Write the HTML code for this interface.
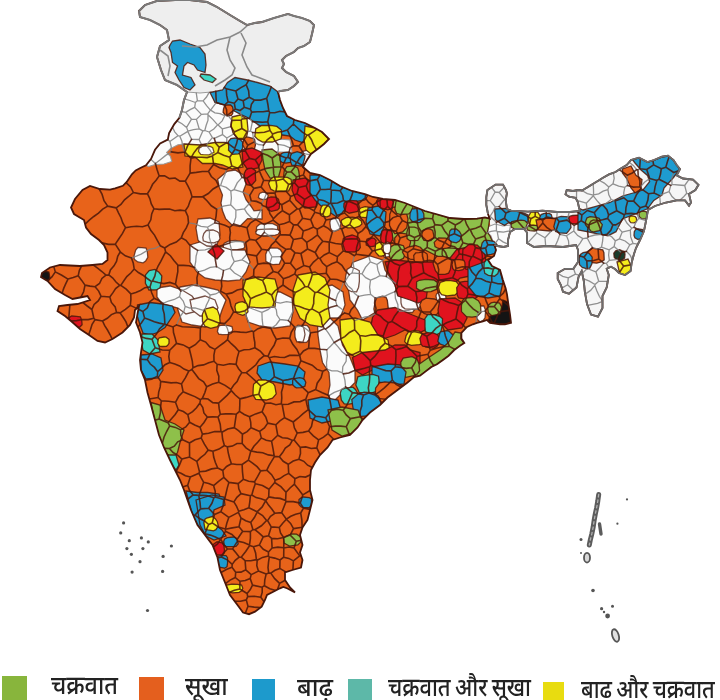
<!DOCTYPE html><html><head><meta charset="utf-8"><style>html,body{margin:0;padding:0;background:#fff;width:720px;height:700px;overflow:hidden}svg{display:block;filter:blur(0.5px)}.lg{position:absolute;top:0;left:0}</style></head><body>
<svg width="720" height="700" viewBox="0 0 720 700">
<defs><clipPath id="ind"><path d="M139.0,11.0 L145.0,5.0 L157.0,1.0 L175.0,0.0 L190.0,0.0 L207.0,2.0 L217.0,7.0 L230.0,15.0 L240.0,21.0 L247.0,25.0 L255.0,23.0 L262.0,22.0 L274.0,18.0 L288.0,14.0 L294.0,16.0 L302.0,18.0 L310.0,21.0 L314.0,25.0 L312.0,34.0 L310.0,42.0 L304.0,46.0 L298.0,48.0 L294.0,52.0 L286.0,56.0 L282.0,60.0 L284.0,64.0 L282.0,68.0 L286.0,72.0 L294.0,76.0 L298.0,82.0 L294.0,86.0 L288.0,90.0 L280.0,91.0 L278.0,92.0 L280.0,100.0 L283.0,108.0 L287.0,116.0 L295.0,120.0 L305.0,123.0 L315.0,128.0 L322.0,132.0 L329.0,139.0 L324.0,144.0 L319.0,148.0 L311.0,154.0 L307.0,160.0 L303.0,167.0 L310.0,173.0 L320.0,175.0 L330.0,180.0 L340.0,186.0 L352.0,191.0 L365.0,194.0 L373.0,197.0 L383.0,199.0 L395.0,200.0 L405.0,203.0 L415.0,207.0 L425.0,211.0 L436.0,214.0 L450.0,218.0 L464.0,219.0 L477.0,218.6 L485.0,217.4 L489.7,218.6 L488.0,214.0 L486.3,205.0 L486.3,197.0 L487.4,190.0 L495.6,184.6 L503.0,184.6 L506.0,190.0 L506.9,193.4 L505.7,200.3 L507.0,209.0 L511.0,210.6 L528.0,211.7 L542.5,210.6 L557.0,212.0 L570.0,212.0 L580.0,211.0 L579.0,207.8 L577.8,202.0 L575.5,197.8 L569.0,196.7 L565.5,194.4 L566.7,190.0 L573.0,191.0 L578.0,190.0 L582.0,190.5 L586.7,187.8 L592.0,184.4 L597.8,181.0 L603.0,177.8 L609.0,174.4 L615.5,172.0 L620.0,169.0 L626.7,165.0 L631.0,160.0 L639.0,157.7 L647.5,162.0 L654.0,160.0 L662.0,156.7 L668.0,155.6 L673.5,160.0 L676.7,165.0 L680.0,169.0 L676.7,175.4 L683.0,178.5 L693.0,179.6 L698.5,184.8 L695.4,190.0 L689.0,194.0 L691.0,202.5 L689.0,205.6 L685.0,200.4 L676.7,200.4 L666.0,202.5 L655.0,206.0 L648.0,210.0 L646.0,221.0 L644.0,231.0 L640.0,240.0 L636.0,248.0 L634.0,254.0 L631.7,262.5 L630.6,271.0 L625.0,275.0 L619.0,273.0 L615.0,269.0 L611.0,266.7 L606.7,268.8 L608.8,275.0 L606.7,287.5 L602.5,296.0 L602.5,308.0 L598.0,316.7 L591.0,314.6 L587.0,304.0 L584.8,291.7 L583.8,281.0 L581.7,271.0 L578.5,277.0 L576.5,287.5 L569.0,293.8 L563.0,291.7 L561.0,285.4 L557.7,279.0 L557.7,273.0 L565.0,268.8 L573.3,268.8 L578.0,262.0 L578.0,250.0 L576.0,245.0 L563.0,247.0 L546.7,246.0 L534.0,247.0 L527.0,243.0 L527.0,232.5 L524.0,229.0 L515.0,229.0 L510.0,232.0 L508.0,240.0 L508.0,246.0 L503.4,247.0 L497.7,246.0 L494.3,245.0 L496.0,250.0 L494.0,256.0 L488.0,260.0 L492.0,266.0 L500.0,270.0 L502.9,280.0 L505.7,288.6 L507.0,294.3 L508.6,305.7 L510.0,314.3 L511.0,322.9 L505.0,324.3 L500.0,324.3 L490.0,322.9 L487.0,320.0 L482.9,321.4 L477.0,322.9 L472.9,324.3 L467.0,327.0 L461.4,332.9 L461.4,338.6 L464.3,342.9 L460.0,345.7 L454.3,350.0 L448.6,355.7 L442.9,360.0 L437.0,364.3 L431.4,367.0 L425.7,371.4 L420.0,375.7 L414.0,377.0 L407.5,382.5 L397.5,390.0 L387.5,397.5 L380.0,405.0 L370.0,412.5 L362.5,420.0 L357.5,427.5 L350.0,435.0 L340.0,437.5 L332.5,440.0 L327.5,447.5 L320.0,455.0 L315.0,462.5 L311.0,470.0 L310.0,480.0 L310.0,490.0 L312.5,500.0 L310.0,510.0 L307.5,520.0 L302.5,527.5 L300.0,535.0 L302.5,545.0 L300.0,552.5 L302.5,560.0 L301.0,567.5 L292.5,570.0 L285.0,572.5 L285.0,580.0 L290.0,587.5 L295.0,592.5 L287.5,588.5 L283.3,587.0 L280.0,588.3 L273.3,591.7 L267.0,595.0 L265.0,600.0 L261.7,606.7 L255.0,611.7 L249.0,614.2 L243.0,612.5 L237.5,605.0 L230.0,595.0 L225.0,582.5 L220.0,570.0 L217.5,557.5 L212.5,545.0 L205.0,535.0 L197.5,525.0 L191.0,510.0 L187.5,500.0 L184.0,490.0 L180.0,480.0 L175.0,470.0 L170.0,460.0 L164.0,447.5 L159.0,435.0 L155.0,420.0 L151.0,405.0 L147.5,392.5 L145.0,380.0 L141.0,370.0 L140.0,360.0 L141.0,352.5 L142.5,342.5 L140.0,332.5 L136.0,322.5 L137.5,314.0 L139.0,306.0 L135.0,310.0 L134.0,317.5 L130.0,325.0 L122.5,332.5 L112.5,339.0 L105.0,342.5 L97.5,341.0 L89.0,335.0 L80.0,329.0 L71.0,321.0 L65.0,316.0 L57.5,311.0 L59.0,306.0 L67.5,305.0 L77.5,304.0 L90.0,300.0 L87.5,296.0 L80.0,297.5 L72.5,299.0 L65.0,295.0 L55.0,289.0 L47.5,281.0 L41.0,277.0 L42.0,273.0 L50.0,267.5 L60.0,265.0 L80.0,266.0 L92.5,265.0 L102.5,264.0 L107.5,260.0 L107.5,252.5 L104.0,245.0 L99.0,240.0 L91.0,234.0 L86.0,227.5 L84.0,220.0 L74.0,214.0 L71.0,207.5 L75.0,199.0 L82.5,190.0 L90.0,186.0 L100.0,189.0 L110.0,189.7 L115.1,188.4 L122.9,185.8 L126.7,182.0 L131.9,174.3 L135.7,170.4 L140.8,167.8 L146.0,165.3 L151.1,158.8 L155.0,149.8 L160.1,143.4 L167.8,139.6 L169.1,133.1 L174.3,124.1 L179.4,117.7 L182.0,110.0 L184.0,100.0 L187.0,92.0 L177.0,85.0 L165.0,80.0 L161.0,70.0 L157.0,57.0 L160.0,46.0 L169.0,40.0 L167.0,30.0 L160.0,25.0 L150.0,20.0 L140.0,17.0 Z"/></clipPath></defs>
<rect width="720" height="700" fill="#fff"/>
<g clip-path="url(#ind)">
<path d="M139.0,11.0 L145.0,5.0 L157.0,1.0 L175.0,0.0 L190.0,0.0 L207.0,2.0 L217.0,7.0 L230.0,15.0 L240.0,21.0 L247.0,25.0 L255.0,23.0 L262.0,22.0 L274.0,18.0 L288.0,14.0 L294.0,16.0 L302.0,18.0 L310.0,21.0 L314.0,25.0 L312.0,34.0 L310.0,42.0 L304.0,46.0 L298.0,48.0 L294.0,52.0 L286.0,56.0 L282.0,60.0 L284.0,64.0 L282.0,68.0 L286.0,72.0 L294.0,76.0 L298.0,82.0 L294.0,86.0 L288.0,90.0 L280.0,91.0 L278.0,92.0 L280.0,100.0 L283.0,108.0 L287.0,116.0 L295.0,120.0 L305.0,123.0 L315.0,128.0 L322.0,132.0 L329.0,139.0 L324.0,144.0 L319.0,148.0 L311.0,154.0 L307.0,160.0 L303.0,167.0 L310.0,173.0 L320.0,175.0 L330.0,180.0 L340.0,186.0 L352.0,191.0 L365.0,194.0 L373.0,197.0 L383.0,199.0 L395.0,200.0 L405.0,203.0 L415.0,207.0 L425.0,211.0 L436.0,214.0 L450.0,218.0 L464.0,219.0 L477.0,218.6 L485.0,217.4 L489.7,218.6 L488.0,214.0 L486.3,205.0 L486.3,197.0 L487.4,190.0 L495.6,184.6 L503.0,184.6 L506.0,190.0 L506.9,193.4 L505.7,200.3 L507.0,209.0 L511.0,210.6 L528.0,211.7 L542.5,210.6 L557.0,212.0 L570.0,212.0 L580.0,211.0 L579.0,207.8 L577.8,202.0 L575.5,197.8 L569.0,196.7 L565.5,194.4 L566.7,190.0 L573.0,191.0 L578.0,190.0 L582.0,190.5 L586.7,187.8 L592.0,184.4 L597.8,181.0 L603.0,177.8 L609.0,174.4 L615.5,172.0 L620.0,169.0 L626.7,165.0 L631.0,160.0 L639.0,157.7 L647.5,162.0 L654.0,160.0 L662.0,156.7 L668.0,155.6 L673.5,160.0 L676.7,165.0 L680.0,169.0 L676.7,175.4 L683.0,178.5 L693.0,179.6 L698.5,184.8 L695.4,190.0 L689.0,194.0 L691.0,202.5 L689.0,205.6 L685.0,200.4 L676.7,200.4 L666.0,202.5 L655.0,206.0 L648.0,210.0 L646.0,221.0 L644.0,231.0 L640.0,240.0 L636.0,248.0 L634.0,254.0 L631.7,262.5 L630.6,271.0 L625.0,275.0 L619.0,273.0 L615.0,269.0 L611.0,266.7 L606.7,268.8 L608.8,275.0 L606.7,287.5 L602.5,296.0 L602.5,308.0 L598.0,316.7 L591.0,314.6 L587.0,304.0 L584.8,291.7 L583.8,281.0 L581.7,271.0 L578.5,277.0 L576.5,287.5 L569.0,293.8 L563.0,291.7 L561.0,285.4 L557.7,279.0 L557.7,273.0 L565.0,268.8 L573.3,268.8 L578.0,262.0 L578.0,250.0 L576.0,245.0 L563.0,247.0 L546.7,246.0 L534.0,247.0 L527.0,243.0 L527.0,232.5 L524.0,229.0 L515.0,229.0 L510.0,232.0 L508.0,240.0 L508.0,246.0 L503.4,247.0 L497.7,246.0 L494.3,245.0 L496.0,250.0 L494.0,256.0 L488.0,260.0 L492.0,266.0 L500.0,270.0 L502.9,280.0 L505.7,288.6 L507.0,294.3 L508.6,305.7 L510.0,314.3 L511.0,322.9 L505.0,324.3 L500.0,324.3 L490.0,322.9 L487.0,320.0 L482.9,321.4 L477.0,322.9 L472.9,324.3 L467.0,327.0 L461.4,332.9 L461.4,338.6 L464.3,342.9 L460.0,345.7 L454.3,350.0 L448.6,355.7 L442.9,360.0 L437.0,364.3 L431.4,367.0 L425.7,371.4 L420.0,375.7 L414.0,377.0 L407.5,382.5 L397.5,390.0 L387.5,397.5 L380.0,405.0 L370.0,412.5 L362.5,420.0 L357.5,427.5 L350.0,435.0 L340.0,437.5 L332.5,440.0 L327.5,447.5 L320.0,455.0 L315.0,462.5 L311.0,470.0 L310.0,480.0 L310.0,490.0 L312.5,500.0 L310.0,510.0 L307.5,520.0 L302.5,527.5 L300.0,535.0 L302.5,545.0 L300.0,552.5 L302.5,560.0 L301.0,567.5 L292.5,570.0 L285.0,572.5 L285.0,580.0 L290.0,587.5 L295.0,592.5 L287.5,588.5 L283.3,587.0 L280.0,588.3 L273.3,591.7 L267.0,595.0 L265.0,600.0 L261.7,606.7 L255.0,611.7 L249.0,614.2 L243.0,612.5 L237.5,605.0 L230.0,595.0 L225.0,582.5 L220.0,570.0 L217.5,557.5 L212.5,545.0 L205.0,535.0 L197.5,525.0 L191.0,510.0 L187.5,500.0 L184.0,490.0 L180.0,480.0 L175.0,470.0 L170.0,460.0 L164.0,447.5 L159.0,435.0 L155.0,420.0 L151.0,405.0 L147.5,392.5 L145.0,380.0 L141.0,370.0 L140.0,360.0 L141.0,352.5 L142.5,342.5 L140.0,332.5 L136.0,322.5 L137.5,314.0 L139.0,306.0 L135.0,310.0 L134.0,317.5 L130.0,325.0 L122.5,332.5 L112.5,339.0 L105.0,342.5 L97.5,341.0 L89.0,335.0 L80.0,329.0 L71.0,321.0 L65.0,316.0 L57.5,311.0 L59.0,306.0 L67.5,305.0 L77.5,304.0 L90.0,300.0 L87.5,296.0 L80.0,297.5 L72.5,299.0 L65.0,295.0 L55.0,289.0 L47.5,281.0 L41.0,277.0 L42.0,273.0 L50.0,267.5 L60.0,265.0 L80.0,266.0 L92.5,265.0 L102.5,264.0 L107.5,260.0 L107.5,252.5 L104.0,245.0 L99.0,240.0 L91.0,234.0 L86.0,227.5 L84.0,220.0 L74.0,214.0 L71.0,207.5 L75.0,199.0 L82.5,190.0 L90.0,186.0 L100.0,189.0 L110.0,189.7 L115.1,188.4 L122.9,185.8 L126.7,182.0 L131.9,174.3 L135.7,170.4 L140.8,167.8 L146.0,165.3 L151.1,158.8 L155.0,149.8 L160.1,143.4 L167.8,139.6 L169.1,133.1 L174.3,124.1 L179.4,117.7 L182.0,110.0 L184.0,100.0 L187.0,92.0 L177.0,85.0 L165.0,80.0 L161.0,70.0 L157.0,57.0 L160.0,46.0 L169.0,40.0 L167.0,30.0 L160.0,25.0 L150.0,20.0 L140.0,17.0 Z" fill="#E8631A"/>
<path d="M488.0,214.0 L486.3,205.0 L486.3,197.0 L487.4,190.0 L495.6,184.6 L503.0,184.6 L506.0,190.0 L506.9,193.4 L505.7,200.3 L507.0,209.0 L511.0,210.6 L528.0,211.7 L542.5,210.6 L557.0,212.0 L570.0,212.0 L580.0,211.0 L579.0,207.8 L577.8,202.0 L575.5,197.8 L569.0,196.7 L565.5,194.4 L566.7,190.0 L573.0,191.0 L578.0,190.0 L582.0,190.5 L586.7,187.8 L592.0,184.4 L597.8,181.0 L603.0,177.8 L609.0,174.4 L615.5,172.0 L620.0,169.0 L626.7,165.0 L631.0,160.0 L639.0,157.7 L647.5,162.0 L654.0,160.0 L662.0,156.7 L668.0,155.6 L673.5,160.0 L676.7,165.0 L680.0,169.0 L676.7,175.4 L683.0,178.5 L693.0,179.6 L698.5,184.8 L695.4,190.0 L689.0,194.0 L691.0,202.5 L689.0,205.6 L685.0,200.4 L676.7,200.4 L666.0,202.5 L655.0,206.0 L648.0,210.0 L646.0,221.0 L644.0,231.0 L640.0,240.0 L636.0,248.0 L634.0,254.0 L631.7,262.5 L630.6,271.0 L625.0,275.0 L619.0,273.0 L615.0,269.0 L611.0,266.7 L606.7,268.8 L608.8,275.0 L606.7,287.5 L602.5,296.0 L602.5,308.0 L598.0,316.7 L591.0,314.6 L587.0,304.0 L584.8,291.7 L583.8,281.0 L581.7,271.0 L578.5,277.0 L576.5,287.5 L569.0,293.8 L563.0,291.7 L561.0,285.4 L557.7,279.0 L557.7,273.0 L565.0,268.8 L573.3,268.8 L578.0,262.0 L578.0,250.0 L576.0,245.0 L563.0,247.0 L546.7,246.0 L534.0,247.0 L527.0,243.0 L527.0,232.5 L524.0,229.0 L515.0,229.0 L510.0,232.0 L508.0,240.0 L508.0,246.0 L503.4,247.0 L497.7,246.0 L494.3,245.0 Z" fill="#F6F6F6"/>
<path d="M139.0,11.0 L145.0,5.0 L157.0,1.0 L175.0,0.0 L190.0,0.0 L207.0,2.0 L217.0,7.0 L230.0,15.0 L240.0,21.0 L247.0,25.0 L255.0,23.0 L262.0,22.0 L274.0,18.0 L288.0,14.0 L294.0,16.0 L302.0,18.0 L310.0,21.0 L314.0,25.0 L312.0,34.0 L310.0,42.0 L304.0,46.0 L298.0,48.0 L294.0,52.0 L286.0,56.0 L282.0,60.0 L284.0,64.0 L282.0,68.0 L286.0,72.0 L294.0,76.0 L298.0,82.0 L294.0,86.0 L288.0,90.0 L280.0,91.0 L278.0,92.0 L270.0,86.0 L257.5,82.5 L247.5,80.0 L235.0,77.5 L227.5,82.5 L222.5,90.0 L210.0,92.5 L200.0,93.0 L187.0,92.0 L177.0,85.0 L165.0,80.0 L161.0,70.0 L157.0,57.0 L160.0,46.0 L169.0,40.0 L167.0,30.0 L160.0,25.0 L150.0,20.0 L140.0,17.0 Z" fill="#EEEEEE" stroke="#EEEEEE" stroke-width="3"/>
<path d="M182.0,108.0 L187.0,92.0 L200.0,93.0 L211.0,92.0 L215.0,102.5 L225.0,105.0 L232.5,110.0 L240.0,114.0 L247.5,117.5 L256.0,123.0 L262.0,130.0 L268.0,138.0 L290.0,140.0 L292.0,152.0 L262.0,152.0 L243.0,150.0 L235.0,146.0 L225.0,142.5 L215.0,142.5 L200.0,145.0 L184.0,144.0 L178.0,144.7 L170.4,148.6 L166.6,152.4 L170.4,156.3 L171.7,161.4 L164.0,164.0 L155.0,164.6 L148.6,166.6 L146.0,165.3 L151.1,158.8 L155.0,149.8 L160.1,143.4 L167.8,139.6 L169.1,133.1 L174.3,124.1 L179.4,117.7 Z" fill="#FBFBFB" stroke="#9a9a9a" stroke-width="1.1"/>
<path d="M227.0,171.4 L235.0,170.0 L243.0,174.6 L246.0,184.0 L243.0,192.0 L246.0,199.7 L250.8,206.0 L254.0,210.8 L262.0,210.0 L262.0,219.0 L247.6,218.6 L239.7,226.5 L232.0,225.0 L225.6,218.6 L222.5,210.8 L221.0,203.0 L222.5,195.0 L219.3,187.2 L217.7,179.3 Z" fill="#FBFBFB" stroke="#4A170A" stroke-width="1.3" stroke-opacity="0.75"/>
<path d="M198.0,219.0 L210.0,218.0 L219.0,222.0 L220.0,235.0 L216.0,248.0 L205.0,249.0 L198.0,240.0 L196.0,228.0 Z" fill="#FBFBFB" stroke="#4A170A" stroke-width="1.3" stroke-opacity="0.75"/>
<path d="M258.4,234.5 L256.1,232.5 L256.7,226.8 L259.7,224.2 L265.2,223.5 L272.6,223.6 L277.4,226.0 L277.8,230.5 L276.5,234.2 L270.9,236.2 L263.5,236.4 Z" fill="#FBFBFB" stroke="#4A170A" stroke-width="1.3" stroke-opacity="0.75"/>
<path d="M263.0,199.6 L259.8,198.6 L258.4,197.4 L259.2,194.4 L259.7,193.4 L262.6,192.1 L265.9,192.6 L266.9,193.0 L268.2,195.8 L267.3,198.5 L266.1,199.2 Z" fill="#FBFBFB" stroke="#4A170A" stroke-width="1.3" stroke-opacity="0.75"/>
<path d="M243.7,248.4 L237.4,249.7 L228.9,250.1 L223.6,248.7 L223.2,245.3 L224.3,243.2 L228.5,241.2 L235.2,240.3 L242.7,241.5 L244.0,242.8 L244.7,246.8 Z" fill="#FBFBFB" stroke="#4A170A" stroke-width="1.3" stroke-opacity="0.75"/>
<path d="M190.0,245.0 L200.0,242.0 L207.0,246.0 L222.0,247.0 L232.0,250.0 L245.0,250.0 L250.0,262.0 L246.0,272.0 L240.0,280.0 L228.0,281.0 L215.0,280.0 L205.0,278.0 L197.0,272.0 L190.0,262.0 Z" fill="#FBFBFB" stroke="#4A170A" stroke-width="1.3" stroke-opacity="0.75"/>
<path d="M203.3,240.8 L202.8,237.3 L203.8,233.6 L206.4,230.5 L213.0,230.0 L217.4,231.7 L219.1,233.4 L220.0,238.6 L218.6,241.0 L214.0,242.9 L208.4,242.5 Z" fill="#FBFBFB" stroke="#4A170A" stroke-width="1.3" stroke-opacity="0.75"/>
<path d="M267.2,250.4 L269.8,248.0 L277.6,248.1 L280.3,249.6 L282.2,252.6 L281.3,259.6 L279.3,264.1 L272.8,264.6 L269.1,263.4 L265.9,261.3 L265.7,254.4 Z" fill="#FBFBFB" stroke="#4A170A" stroke-width="1.3" stroke-opacity="0.75"/>
<path d="M277.7,229.6 L280.0,231.4 L278.1,234.3 L275.2,235.2 L265.8,235.7 L260.2,235.6 L256.3,234.0 L255.8,232.2 L257.5,229.7 L261.2,229.4 L272.3,228.8 Z" fill="#FBFBFB" stroke="#4A170A" stroke-width="1.3" stroke-opacity="0.75"/>
<path d="M180.0,287.0 L192.0,285.0 L205.0,287.0 L218.0,290.0 L226.0,300.0 L222.0,310.0 L218.0,322.0 L205.0,327.0 L192.0,325.0 L182.0,322.0 L178.0,310.0 L176.0,298.0 Z" fill="#FBFBFB" stroke="#4A170A" stroke-width="1.3" stroke-opacity="0.75"/>
<path d="M246.0,293.0 L262.0,291.0 L280.0,292.0 L292.0,298.0 L293.0,312.0 L290.0,326.0 L275.0,328.0 L260.0,326.0 L248.0,322.0 L244.0,308.0 Z" fill="#FBFBFB" stroke="#4A170A" stroke-width="1.3" stroke-opacity="0.75"/>
<path d="M232.7,329.6 L231.5,333.0 L228.9,334.4 L222.3,334.7 L218.8,334.1 L217.4,331.7 L218.2,328.0 L219.3,325.7 L223.4,325.2 L228.2,325.7 L231.9,326.6 Z" fill="#FBFBFB" stroke="#4A170A" stroke-width="1.3" stroke-opacity="0.75"/>
<path d="M309.2,328.1 L310.4,333.8 L309.4,339.1 L306.5,342.4 L299.5,342.5 L296.3,339.7 L295.8,336.0 L295.0,331.2 L297.6,327.2 L302.0,325.1 L307.2,325.6 Z" fill="#FBFBFB" stroke="#4A170A" stroke-width="1.3" stroke-opacity="0.75"/>
<path d="M157.0,288.0 L170.0,286.0 L182.0,290.0 L192.0,296.0 L198.0,304.0 L194.0,312.0 L186.0,314.0 L178.0,308.0 L170.0,306.0 L162.0,304.0 L157.0,297.0 Z" fill="#FBFBFB" stroke="#4A170A" stroke-width="1.3" stroke-opacity="0.75"/>
<path d="M190.0,300.0 L205.0,296.0 L215.0,300.0 L218.0,308.0 L212.0,316.0 L200.0,316.0 L192.0,310.0 Z" fill="#FBFBFB" stroke="#4A170A" stroke-width="1.3" stroke-opacity="0.75"/>
<path d="M317.5,322.5 L330.0,318.0 L338.0,326.0 L342.5,345.0 L350.0,357.5 L355.0,370.0 L355.0,382.5 L347.5,390.0 L340.0,395.0 L332.5,402.5 L328.0,395.0 L330.0,385.0 L329.0,372.5 L322.5,362.5 L320.0,350.0 L318.0,335.0 Z" fill="#FBFBFB" stroke="#4A170A" stroke-width="1.3" stroke-opacity="0.75"/>
<path d="M320.0,288.0 L332.0,285.0 L343.0,292.0 L345.0,305.0 L340.0,318.0 L330.0,318.0 L322.0,312.0 L318.0,300.0 Z" fill="#FBFBFB" stroke="#4A170A" stroke-width="1.3" stroke-opacity="0.75"/>
<path d="M352.5,262.5 L370.0,256.0 L382.5,260.0 L385.0,270.0 L395.0,285.0 L397.5,295.0 L410.0,300.0 L417.5,305.0 L412.5,312.5 L395.0,312.5 L382.5,305.0 L375.0,312.5 L362.5,320.0 L357.5,310.0 L350.0,300.0 L347.5,282.5 L350.0,270.0 Z" fill="#FBFBFB" stroke="#4A170A" stroke-width="1.3" stroke-opacity="0.75"/>
<path d="M356.2,269.0 L359.3,270.8 L359.4,281.1 L358.6,287.2 L356.6,291.8 L351.6,291.7 L348.1,289.8 L344.8,284.4 L345.7,276.2 L347.1,269.5 L350.9,267.0 Z" fill="#FBFBFB" stroke="#4A170A" stroke-width="1.3" stroke-opacity="0.75"/>
<path d="M416.1,323.1 L418.5,323.8 L419.4,326.6 L419.4,329.8 L418.2,332.1 L412.0,332.6 L409.8,332.1 L407.5,329.9 L408.0,326.2 L408.9,324.2 L412.4,322.9 Z" fill="#FBFBFB" stroke="#4A170A" stroke-width="1.3" stroke-opacity="0.75"/>
<path d="M477.5,319.4 L475.5,314.9 L475.6,310.4 L477.5,307.1 L479.4,306.0 L483.8,305.9 L485.4,309.8 L485.5,312.6 L485.0,317.8 L483.2,320.4 L480.0,321.9 Z" fill="#FBFBFB" stroke="#4A170A" stroke-width="1.3" stroke-opacity="0.75"/>
<path d="M441.5,301.9 L439.2,301.7 L436.8,300.3 L436.0,296.0 L436.4,294.3 L437.9,292.8 L442.2,291.7 L444.8,293.4 L445.5,294.6 L446.1,298.8 L444.6,300.8 Z" fill="#FBFBFB" stroke="#4A170A" stroke-width="1.3" stroke-opacity="0.75"/>
<path d="M418.5,295.9 L421.2,300.0 L421.2,305.2 L418.2,309.0 L414.5,309.5 L405.0,308.8 L402.0,306.5 L401.0,302.8 L400.9,297.4 L405.2,295.4 L412.6,293.9 Z" fill="#FBFBFB" stroke="#4A170A" stroke-width="1.3" stroke-opacity="0.75"/>
<path d="M383.4,246.3 L387.3,245.6 L389.7,245.8 L391.5,247.9 L392.8,251.3 L392.3,255.3 L390.2,256.4 L386.0,257.1 L384.2,257.1 L382.4,253.6 L382.7,248.2 Z" fill="#FBFBFB" stroke="#4A170A" stroke-width="1.3" stroke-opacity="0.75"/>
<path d="M296.8,341.8 L295.1,337.3 L294.8,331.4 L295.8,327.2 L298.0,325.1 L302.5,325.9 L303.8,327.9 L305.0,334.5 L304.1,338.6 L302.8,342.2 L299.4,341.7 Z" fill="#FBFBFB" stroke="#4A170A" stroke-width="1.3" stroke-opacity="0.75"/>
<path d="M329.9,222.7 L330.3,220.2 L333.2,218.0 L336.9,218.0 L339.1,218.9 L340.8,223.3 L340.5,227.8 L338.7,229.8 L334.6,231.3 L332.1,230.5 L330.5,228.1 Z" fill="#FBFBFB" stroke="#4A170A" stroke-width="1.3" stroke-opacity="0.75"/>
<path d="M311.2,154.6 L311.7,159.1 L310.2,162.7 L308.2,165.1 L303.0,163.9 L301.2,162.5 L300.2,159.3 L300.9,152.9 L303.1,151.3 L308.0,149.9 L310.4,151.7 Z" fill="#FBFBFB" stroke="#4A170A" stroke-width="1.3" stroke-opacity="0.75"/>
<path d="M488.6,226.6 L495.0,224.0 L503.0,226.0 L510.0,225.0 L515.0,229.0 L510.0,232.0 L508.0,240.0 L508.0,246.0 L503.4,247.0 L497.7,246.0 L494.3,245.0 L490.9,235.7 L487.4,232.3 Z" fill="#FBFBFB" stroke="#9a9a9a" stroke-width="1.1"/>
<path d="M170.0,45.0 L172.5,41.0 L180.0,40.0 L190.0,44.0 L200.0,47.5 L205.0,54.0 L206.0,65.0 L205.0,72.5 L197.5,70.0 L194.0,65.0 L187.5,62.5 L184.0,66.0 L182.5,75.0 L191.0,77.5 L195.0,85.0 L190.0,90.0 L184.0,87.5 L179.0,80.0 L175.0,72.5 L177.5,66.0 L172.5,62.5 L171.0,52.5 L169.0,47.5 Z" fill="#1E9BD0" stroke="#4A170A" stroke-width="1.3" stroke-opacity="0.85"/>
<path d="M201.0,74.0 L210.0,75.0 L216.0,79.0 L212.5,82.5 L204.0,80.0 L200.0,76.0 Z" fill="#3DD6C4" stroke="#4A170A" stroke-width="1.3" stroke-opacity="0.85"/>
<path d="M210.0,92.5 L222.5,90.0 L227.5,82.5 L235.0,77.5 L247.5,80.0 L257.5,82.5 L270.0,86.0 L278.0,92.0 L280.0,100.0 L283.0,108.0 L287.0,116.0 L295.0,120.0 L305.0,123.0 L312.0,127.0 L312.0,140.0 L302.5,142.5 L295.0,140.0 L290.0,136.0 L282.5,135.0 L270.0,130.0 L262.5,127.5 L255.0,122.5 L247.5,117.5 L240.0,114.0 L232.5,110.0 L225.0,105.0 L215.0,102.5 Z" fill="#1E9BD0" stroke="#4A170A" stroke-width="1.3" stroke-opacity="0.85"/>
<path d="M305.0,126.0 L315.0,128.0 L322.0,132.0 L329.0,139.0 L324.0,144.0 L319.0,148.0 L311.0,154.0 L306.0,150.0 L304.0,140.0 Z" fill="#F4EC1C" stroke="#4A170A" stroke-width="1.3" stroke-opacity="0.85"/>
<path d="M254.8,136.4 L255.8,128.7 L261.7,125.5 L270.7,125.3 L276.8,126.4 L281.3,130.1 L281.7,135.1 L281.0,138.8 L272.4,142.0 L262.6,142.1 L258.1,139.6 Z" fill="#F4EC1C" stroke="#4A170A" stroke-width="1.3" stroke-opacity="0.85"/>
<path d="M232.0,117.0 L240.0,115.0 L247.0,119.0 L248.0,130.0 L246.0,140.0 L238.0,139.0 L233.0,133.0 L231.0,125.0 Z" fill="#F4EC1C" stroke="#4A170A" stroke-width="1.3" stroke-opacity="0.85"/>
<path d="M223.5,109.0 L224.4,106.2 L226.8,105.0 L230.6,105.0 L232.5,106.9 L233.0,109.3 L232.7,113.5 L231.4,115.4 L227.2,116.1 L225.1,114.9 L223.1,112.2 Z" fill="#E8631A" stroke="#4A170A" stroke-width="1.3" stroke-opacity="0.85"/>
<path d="M184.0,144.0 L200.0,145.0 L215.0,142.5 L225.0,142.5 L235.0,145.0 L240.0,155.0 L243.0,167.0 L232.5,169.0 L222.5,165.0 L215.0,163.5 L202.5,163.5 L195.0,157.0 L185.0,156.0 Z" fill="#F4EC1C" stroke="#4A170A" stroke-width="1.3" stroke-opacity="0.85"/>
<path d="M214.0,152.1 L212.5,153.0 L209.1,154.8 L203.3,154.6 L200.7,154.3 L198.5,151.3 L199.2,148.2 L202.4,146.2 L206.7,146.0 L210.2,146.5 L212.7,147.7 Z" fill="#FBFBFB" stroke="#4A170A" stroke-width="1.3" stroke-opacity="0.75"/>
<path d="M228.7,147.4 L228.3,141.7 L230.9,138.5 L235.1,138.0 L240.2,139.6 L242.6,142.0 L242.6,148.2 L240.5,152.1 L238.4,153.8 L232.5,154.3 L228.5,150.3 Z" fill="#1E9BD0" stroke="#4A170A" stroke-width="1.3" stroke-opacity="0.85"/>
<path d="M255.5,144.9 L254.5,148.7 L251.2,149.4 L246.9,150.1 L244.4,148.3 L242.7,144.7 L243.5,140.6 L245.7,137.2 L248.1,137.2 L253.8,138.6 L254.7,139.7 Z" fill="#E8631A" stroke="#4A170A" stroke-width="1.3" stroke-opacity="0.85"/>
<path d="M242.0,150.0 L252.0,148.0 L261.0,152.0 L262.0,160.0 L258.0,168.0 L248.0,170.0 L243.0,163.0 Z" fill="#E0131E" stroke="#4A170A" stroke-width="1.3" stroke-opacity="0.85"/>
<path d="M246.7,184.6 L245.2,181.0 L244.2,173.6 L245.8,170.3 L248.5,168.5 L251.8,168.2 L255.6,170.7 L255.3,174.0 L255.7,180.6 L252.9,183.7 L251.1,185.5 Z" fill="#E0131E" stroke="#4A170A" stroke-width="1.3" stroke-opacity="0.85"/>
<path d="M262.0,150.0 L272.0,149.0 L280.0,155.0 L281.0,168.0 L278.0,179.0 L270.0,178.0 L265.0,170.0 L263.0,160.0 Z" fill="#8EC04A" stroke="#4A170A" stroke-width="1.3" stroke-opacity="0.85"/>
<path d="M297.7,167.9 L298.8,171.3 L299.7,178.5 L297.8,182.2 L294.4,185.5 L287.9,183.8 L285.1,181.2 L283.7,175.7 L284.3,170.5 L286.9,166.6 L294.0,165.9 Z" fill="#8EC04A" stroke="#4A170A" stroke-width="1.3" stroke-opacity="0.85"/>
<path d="M292.0,155.8 L291.4,160.4 L290.4,162.3 L286.0,163.1 L282.2,162.4 L280.2,160.8 L280.0,156.4 L281.3,153.7 L283.4,152.7 L288.6,152.1 L290.8,153.2 Z" fill="#1E9BD0" stroke="#4A170A" stroke-width="1.3" stroke-opacity="0.85"/>
<path d="M290.5,161.4 L290.4,156.0 L291.9,153.3 L297.2,151.6 L301.6,153.2 L305.1,155.7 L304.6,158.8 L303.2,163.3 L301.2,166.1 L294.6,165.4 L291.8,165.1 Z" fill="#1E9BD0" stroke="#4A170A" stroke-width="1.3" stroke-opacity="0.85"/>
<path d="M287.4,177.4 L291.1,179.4 L291.8,184.8 L288.6,190.9 L283.5,191.4 L273.9,190.9 L270.7,189.0 L268.6,183.4 L270.0,179.8 L273.5,177.0 L279.9,176.8 Z" fill="#F4EC1C" stroke="#4A170A" stroke-width="1.3" stroke-opacity="0.85"/>
<path d="M293.0,180.0 L305.0,178.0 L314.0,183.0 L318.0,195.0 L316.0,207.0 L305.0,208.0 L296.0,200.0 L292.0,190.0 Z" fill="#E0131E" stroke="#4A170A" stroke-width="1.3" stroke-opacity="0.85"/>
<path d="M310.0,175.0 L320.0,175.0 L330.0,180.0 L340.0,186.0 L352.5,191.0 L365.0,194.0 L367.5,196.0 L365.0,200.0 L350.0,202.5 L342.5,212.5 L337.5,217.5 L330.0,212.5 L320.0,205.0 L315.0,200.0 L310.0,192.5 L310.0,182.5 Z" fill="#1E9BD0" stroke="#4A170A" stroke-width="1.3" stroke-opacity="0.85"/>
<path d="M279.7,203.8 L279.2,208.2 L277.5,209.9 L271.5,211.3 L268.1,210.0 L266.1,206.7 L266.7,201.5 L267.4,198.2 L271.0,196.9 L275.8,197.1 L278.4,199.2 Z" fill="#E0131E" stroke="#4A170A" stroke-width="1.3" stroke-opacity="0.85"/>
<path d="M329.9,215.6 L327.0,216.9 L322.5,216.3 L320.5,214.9 L320.2,210.8 L321.3,207.1 L322.8,205.1 L326.2,205.1 L329.2,206.5 L330.7,208.6 L330.8,212.1 Z" fill="#F4EC1C" stroke="#4A170A" stroke-width="1.3" stroke-opacity="0.85"/>
<path d="M349.8,200.3 L356.6,200.8 L358.3,202.9 L359.3,207.2 L357.6,211.5 L354.3,212.2 L349.1,213.2 L345.3,211.1 L343.8,206.8 L344.0,203.2 L346.3,201.3 Z" fill="#E0131E" stroke="#4A170A" stroke-width="1.3" stroke-opacity="0.85"/>
<path d="M378.7,198.4 L383.4,196.9 L388.8,197.2 L391.6,199.4 L393.1,201.5 L392.0,205.8 L390.5,207.2 L383.8,207.9 L379.4,207.3 L377.4,204.5 L376.5,201.2 Z" fill="#E0131E" stroke="#4A170A" stroke-width="1.3" stroke-opacity="0.85"/>
<path d="M341.8,220.0 L346.0,217.7 L352.6,217.2 L357.5,218.2 L361.3,220.9 L361.9,224.1 L359.5,226.2 L355.2,227.7 L347.6,227.8 L342.7,225.4 L341.1,221.8 Z" fill="#F4EC1C" stroke="#4A170A" stroke-width="1.3" stroke-opacity="0.85"/>
<path d="M360.6,208.0 L365.1,206.7 L369.8,207.3 L371.4,209.0 L373.1,213.3 L372.0,215.8 L369.7,217.0 L365.0,217.7 L361.0,217.2 L358.8,214.6 L358.7,210.2 Z" fill="#F4EC1C" stroke="#4A170A" stroke-width="1.3" stroke-opacity="0.85"/>
<path d="M368.0,208.0 L378.0,206.0 L386.0,212.0 L385.0,225.0 L380.0,236.0 L370.0,234.0 L366.0,222.0 Z" fill="#1E9BD0" stroke="#4A170A" stroke-width="1.3" stroke-opacity="0.85"/>
<path d="M394.0,200.0 L405.0,203.0 L415.0,207.0 L425.0,211.0 L436.0,214.0 L450.0,218.0 L464.0,219.0 L477.0,218.6 L485.0,217.4 L489.7,218.6 L488.6,226.6 L487.4,232.3 L490.0,236.0 L494.0,245.0 L484.0,248.0 L470.0,246.0 L460.0,250.0 L440.0,257.5 L425.0,250.0 L415.0,255.0 L400.0,252.0 L393.0,240.0 L390.0,225.0 L392.0,210.0 Z" fill="#8EC04A" stroke="#4A170A" stroke-width="1.3" stroke-opacity="0.85"/>
<path d="M389.8,214.2 L392.6,207.4 L395.7,207.0 L404.1,207.6 L406.0,211.2 L408.0,219.0 L406.8,227.6 L402.6,231.9 L394.8,233.8 L391.3,228.7 L389.5,225.3 Z" fill="#E8631A" stroke="#4A170A" stroke-width="1.3" stroke-opacity="0.85"/>
<path d="M413.3,205.3 L411.8,211.3 L408.7,213.9 L400.8,214.5 L396.6,213.3 L394.9,209.1 L395.8,202.4 L397.2,198.3 L402.1,197.4 L407.8,198.3 L412.3,199.9 Z" fill="#8EC04A" stroke="#4A170A" stroke-width="1.3" stroke-opacity="0.85"/>
<path d="M420.2,222.3 L416.9,222.8 L411.8,221.2 L409.8,218.3 L410.1,213.3 L411.9,209.1 L415.7,208.5 L420.7,208.3 L422.3,210.7 L423.8,214.0 L424.0,219.3 Z" fill="#1E9BD0" stroke="#4A170A" stroke-width="1.3" stroke-opacity="0.85"/>
<path d="M396.3,246.5 L394.7,242.7 L394.7,238.1 L398.2,233.9 L401.0,233.1 L407.6,234.2 L410.1,236.8 L410.5,242.5 L409.2,247.6 L406.0,249.3 L399.5,248.0 Z" fill="#E8631A" stroke="#4A170A" stroke-width="1.3" stroke-opacity="0.85"/>
<path d="M399.0,244.5 L403.4,245.7 L405.1,250.2 L405.4,254.2 L403.3,258.4 L398.8,260.5 L391.9,259.6 L390.0,257.9 L388.4,251.3 L390.7,246.9 L393.8,244.9 Z" fill="#8EC04A" stroke="#4A170A" stroke-width="1.3" stroke-opacity="0.85"/>
<path d="M420.3,247.2 L422.5,249.7 L424.4,254.5 L421.6,258.9 L417.2,260.0 L410.1,259.2 L404.8,256.5 L402.4,252.1 L404.2,249.3 L408.0,247.2 L415.4,245.5 Z" fill="#E8631A" stroke="#4A170A" stroke-width="1.3" stroke-opacity="0.85"/>
<path d="M418.9,252.6 L423.9,251.8 L427.1,254.0 L427.5,256.8 L427.3,261.7 L424.4,264.1 L418.8,264.2 L415.6,262.6 L414.1,260.3 L413.7,255.5 L415.7,252.9 Z" fill="#E8631A" stroke="#4A170A" stroke-width="1.3" stroke-opacity="0.85"/>
<path d="M423.2,230.3 L426.5,228.7 L430.3,229.2 L432.7,230.4 L433.8,235.5 L433.7,237.8 L430.9,240.6 L427.6,240.7 L424.0,240.4 L422.5,238.0 L421.8,234.2 Z" fill="#E8631A" stroke="#4A170A" stroke-width="1.3" stroke-opacity="0.85"/>
<path d="M409.2,227.2 L414.5,227.2 L417.9,228.5 L419.3,232.5 L420.3,236.8 L417.8,240.3 L413.3,240.7 L409.5,240.4 L407.1,238.6 L406.8,232.6 L407.8,229.1 Z" fill="#8EC04A" stroke="#4A170A" stroke-width="1.3" stroke-opacity="0.85"/>
<path d="M435.0,246.5 L434.2,242.4 L437.1,239.4 L438.6,238.0 L445.6,238.1 L450.4,240.0 L451.2,242.2 L450.7,246.6 L446.8,248.8 L442.8,249.3 L437.8,248.2 Z" fill="#E8631A" stroke="#4A170A" stroke-width="1.3" stroke-opacity="0.85"/>
<path d="M442.2,250.7 L443.3,248.7 L449.1,247.9 L457.8,248.6 L460.1,249.9 L460.6,254.4 L459.3,256.4 L454.4,258.3 L448.6,258.0 L443.3,256.7 L442.1,254.8 Z" fill="#8EC04A" stroke="#4A170A" stroke-width="1.3" stroke-opacity="0.85"/>
<path d="M444.9,258.5 L449.0,259.2 L450.7,261.3 L450.9,264.7 L449.2,268.1 L447.0,269.7 L442.7,269.5 L438.8,267.9 L437.9,263.2 L439.1,261.0 L440.1,258.8 Z" fill="#E8631A" stroke="#4A170A" stroke-width="1.3" stroke-opacity="0.85"/>
<path d="M460.8,238.9 L459.4,241.1 L456.3,242.9 L451.8,241.8 L449.2,240.1 L448.9,236.8 L449.8,231.0 L451.5,229.2 L456.3,228.9 L459.4,231.5 L461.3,234.8 Z" fill="#1E9BD0" stroke="#4A170A" stroke-width="1.3" stroke-opacity="0.85"/>
<path d="M389.0,196.8 L391.6,198.6 L393.2,201.9 L392.1,207.0 L391.0,209.0 L387.7,209.9 L382.1,208.5 L380.3,207.4 L380.0,201.6 L381.0,199.1 L384.0,197.7 Z" fill="#E0131E" stroke="#4A170A" stroke-width="1.3" stroke-opacity="0.85"/>
<path d="M384.4,244.7 L381.2,242.0 L380.5,238.3 L382.0,231.2 L384.3,229.5 L389.0,230.0 L391.4,229.9 L392.3,233.8 L392.8,239.0 L390.6,243.2 L388.9,245.5 Z" fill="#E0131E" stroke="#4A170A" stroke-width="1.3" stroke-opacity="0.85"/>
<path d="M385.9,251.0 L384.8,255.0 L381.8,256.1 L378.8,255.8 L375.9,252.7 L374.9,250.3 L375.6,244.5 L378.0,242.9 L380.2,242.2 L384.1,243.5 L386.0,246.1 Z" fill="#F4EC1C" stroke="#4A170A" stroke-width="1.3" stroke-opacity="0.85"/>
<path d="M383.1,245.9 L384.9,243.1 L387.3,241.9 L389.1,242.6 L390.8,245.0 L390.6,249.3 L390.3,251.6 L388.5,253.6 L385.7,253.3 L383.5,252.5 L383.3,249.5 Z" fill="#FBFBFB" stroke="#4A170A" stroke-width="1.3" stroke-opacity="0.75"/>
<path d="M369.4,246.5 L366.3,245.1 L366.0,242.4 L367.0,239.3 L369.0,238.3 L372.0,237.8 L374.2,238.3 L376.1,240.5 L375.3,244.1 L375.2,245.9 L371.8,246.7 Z" fill="#E0131E" stroke="#4A170A" stroke-width="1.3" stroke-opacity="0.85"/>
<path d="M385.0,262.0 L395.0,260.0 L415.0,262.0 L430.0,262.0 L447.0,262.0 L457.0,249.0 L470.0,247.0 L484.0,248.0 L486.0,262.0 L480.0,272.0 L470.0,276.0 L460.0,278.0 L455.0,283.0 L440.0,280.0 L428.0,286.0 L426.0,300.0 L418.0,303.0 L410.0,300.0 L398.0,296.0 L395.0,285.0 L388.0,272.0 Z" fill="#E0131E" stroke="#4A170A" stroke-width="1.3" stroke-opacity="0.85"/>
<path d="M477.5,245.1 L481.4,249.7 L482.3,255.8 L482.1,263.5 L479.1,266.8 L470.6,269.9 L465.8,269.2 L462.9,262.3 L462.6,255.8 L462.9,249.4 L469.1,244.3 Z" fill="#E0131E" stroke="#4A170A" stroke-width="1.3" stroke-opacity="0.85"/>
<path d="M450.4,269.2 L448.6,273.2 L445.1,274.4 L438.4,274.3 L435.4,270.7 L433.1,263.4 L434.3,259.3 L436.7,256.3 L443.0,256.3 L449.2,258.2 L451.6,260.5 Z" fill="#E8631A" stroke="#4A170A" stroke-width="1.3" stroke-opacity="0.85"/>
<path d="M455.5,259.3 L459.7,259.6 L463.9,260.4 L464.9,262.6 L465.1,267.4 L462.8,269.7 L458.9,270.7 L454.2,270.1 L452.7,268.4 L452.0,264.7 L453.1,260.2 Z" fill="#E8631A" stroke="#4A170A" stroke-width="1.3" stroke-opacity="0.85"/>
<path d="M425.6,279.3 L433.9,280.0 L437.0,282.3 L437.9,285.7 L436.8,289.2 L431.0,291.6 L425.5,291.8 L419.1,289.9 L416.5,288.2 L416.6,281.8 L419.4,280.3 Z" fill="#8EC04A" stroke="#4A170A" stroke-width="1.3" stroke-opacity="0.85"/>
<path d="M455.0,295.0 L447.0,295.9 L441.6,294.7 L439.6,292.0 L438.5,287.4 L440.2,282.3 L445.7,280.7 L450.9,280.6 L456.3,281.7 L459.1,285.3 L459.7,291.0 Z" fill="#F4EC1C" stroke="#4A170A" stroke-width="1.3" stroke-opacity="0.85"/>
<path d="M466.3,299.2 L458.5,298.0 L457.2,294.9 L456.7,287.7 L460.6,282.0 L464.7,281.3 L473.1,281.3 L477.2,283.8 L478.8,291.0 L477.1,297.1 L473.7,299.5 Z" fill="#E0131E" stroke="#4A170A" stroke-width="1.3" stroke-opacity="0.85"/>
<path d="M421.3,310.5 L419.8,304.7 L422.0,300.3 L426.1,298.2 L434.3,299.0 L436.8,300.1 L440.3,303.8 L439.2,311.4 L436.7,314.5 L428.4,314.9 L424.0,313.4 Z" fill="#E8631A" stroke="#4A170A" stroke-width="1.3" stroke-opacity="0.85"/>
<path d="M440.0,299.0 L455.0,298.0 L466.0,305.0 L467.0,318.0 L462.0,328.0 L448.0,330.0 L440.0,322.0 L438.0,310.0 Z" fill="#E0131E" stroke="#4A170A" stroke-width="1.3" stroke-opacity="0.85"/>
<path d="M480.4,304.1 L481.0,312.5 L477.1,316.5 L472.0,317.1 L466.5,316.6 L461.5,311.6 L461.4,305.8 L462.4,300.9 L464.9,298.2 L472.8,297.5 L478.4,300.7 Z" fill="#8EC04A" stroke="#4A170A" stroke-width="1.3" stroke-opacity="0.85"/>
<path d="M434.6,314.9 L440.0,316.6 L442.5,318.7 L442.2,325.5 L440.7,332.6 L436.8,334.6 L430.8,334.2 L425.4,331.7 L423.6,322.9 L424.4,319.4 L427.9,314.3 Z" fill="#3DD6C4" stroke="#4A170A" stroke-width="1.3" stroke-opacity="0.85"/>
<path d="M468.0,268.0 L484.0,262.0 L496.0,256.0 L500.0,270.0 L503.0,282.0 L500.0,296.0 L488.0,298.0 L476.0,296.0 L468.0,286.0 Z" fill="#1E9BD0" stroke="#4A170A" stroke-width="1.3" stroke-opacity="0.85"/>
<path d="M484.8,273.3 L483.9,268.5 L484.2,262.7 L486.6,259.6 L491.6,257.8 L497.5,258.8 L499.7,263.1 L499.6,267.5 L497.8,273.6 L494.5,276.2 L488.3,275.4 Z" fill="#3DD6C4" stroke="#4A170A" stroke-width="1.3" stroke-opacity="0.85"/>
<path d="M497.0,244.5 L497.2,247.3 L495.3,253.3 L491.2,254.3 L485.9,255.2 L482.8,252.5 L480.6,250.0 L482.1,243.0 L484.3,240.4 L487.9,240.4 L493.9,241.4 Z" fill="#1E9BD0" stroke="#4A170A" stroke-width="1.3" stroke-opacity="0.85"/>
<path d="M501.3,310.5 L499.7,314.7 L496.5,316.2 L491.6,315.6 L488.4,312.8 L487.7,308.2 L488.4,305.2 L491.1,302.9 L494.4,302.1 L499.5,303.0 L501.6,307.0 Z" fill="#8EC04A" stroke="#4A170A" stroke-width="1.3" stroke-opacity="0.85"/>
<path d="M503.0,300.0 L508.0,302.0 L510.0,310.0 L511.0,322.0 L505.0,324.0 L495.0,324.0 L488.0,321.0 L490.0,316.0 L500.0,314.0 L502.0,306.0 Z" fill="#141414" stroke="#4A170A" stroke-width="1.3" stroke-opacity="0.85"/>
<path d="M386.1,297.4 L387.3,300.2 L388.2,307.8 L386.2,314.7 L384.3,316.3 L378.2,318.0 L375.4,316.1 L373.9,308.9 L375.2,301.6 L376.6,298.0 L382.3,296.3 Z" fill="#E8631A" stroke="#4A170A" stroke-width="1.3" stroke-opacity="0.85"/>
<path d="M377.5,310.0 L395.0,307.5 L412.5,315.0 L425.0,320.0 L425.0,330.0 L415.0,335.0 L405.0,330.0 L395.0,335.0 L380.0,340.0 L370.0,330.0 L372.5,317.5 Z" fill="#E0131E" stroke="#4A170A" stroke-width="1.3" stroke-opacity="0.85"/>
<path d="M340.0,320.0 L355.0,318.0 L370.0,322.0 L378.0,335.0 L388.0,340.0 L390.0,352.0 L378.0,356.0 L368.0,359.0 L357.0,358.0 L347.0,352.0 L341.0,340.0 Z" fill="#F4EC1C" stroke="#4A170A" stroke-width="1.3" stroke-opacity="0.85"/>
<path d="M352.5,357.5 L362.5,352.5 L385.0,350.0 L395.0,345.0 L405.0,345.0 L410.0,350.0 L420.0,352.5 L420.0,362.5 L400.0,370.0 L385.0,367.5 L372.5,370.0 L362.5,375.0 L355.0,370.0 Z" fill="#E0131E" stroke="#4A170A" stroke-width="1.3" stroke-opacity="0.85"/>
<path d="M424.4,339.2 L423.4,343.2 L419.5,344.6 L411.4,345.4 L406.8,343.9 L404.7,341.6 L406.1,335.6 L408.3,332.2 L414.1,330.3 L419.1,331.1 L422.8,334.1 Z" fill="#F4EC1C" stroke="#4A170A" stroke-width="1.3" stroke-opacity="0.85"/>
<path d="M423.3,345.4 L422.0,342.7 L423.4,338.0 L427.8,335.2 L434.3,335.1 L437.3,335.5 L439.5,339.7 L439.3,343.6 L436.8,346.4 L433.6,348.4 L425.4,347.0 Z" fill="#E0131E" stroke="#4A170A" stroke-width="1.3" stroke-opacity="0.85"/>
<path d="M438.6,344.0 L434.3,346.2 L430.4,347.2 L422.7,346.2 L421.1,344.3 L419.9,338.7 L422.0,334.3 L427.0,332.8 L433.2,332.8 L437.8,335.0 L439.5,338.6 Z" fill="#E0131E" stroke="#4A170A" stroke-width="1.3" stroke-opacity="0.85"/>
<path d="M452.4,342.9 L449.2,346.0 L443.8,345.4 L440.4,344.2 L437.8,341.4 L439.3,334.9 L440.4,331.9 L447.4,330.5 L449.6,331.8 L453.3,335.2 L454.3,340.6 Z" fill="#1E9BD0" stroke="#4A170A" stroke-width="1.3" stroke-opacity="0.85"/>
<path d="M455.0,332.0 L461.0,333.0 L461.0,339.0 L464.0,343.0 L460.0,346.0 L454.0,350.0 L449.0,356.0 L443.0,360.0 L437.0,364.0 L431.0,367.0 L426.0,371.0 L420.0,376.0 L414.0,377.0 L410.0,372.0 L418.0,365.0 L428.0,358.0 L440.0,350.0 L448.0,343.0 Z" fill="#8EC04A" stroke="#4A170A" stroke-width="1.3" stroke-opacity="0.85"/>
<path d="M406.0,377.4 L402.3,374.5 L400.9,366.2 L400.8,362.2 L403.2,358.2 L412.0,356.7 L417.1,359.3 L419.0,364.1 L419.6,370.7 L417.1,374.1 L412.6,376.0 Z" fill="#8EC04A" stroke="#4A170A" stroke-width="1.3" stroke-opacity="0.85"/>
<path d="M372.0,367.0 L388.0,364.0 L400.0,365.0 L406.0,372.0 L404.0,384.0 L392.0,385.0 L378.0,382.0 L372.0,376.0 Z" fill="#1E9BD0" stroke="#4A170A" stroke-width="1.3" stroke-opacity="0.85"/>
<path d="M372.8,374.3 L378.5,376.2 L379.0,380.1 L378.6,388.5 L377.4,391.2 L370.1,393.4 L359.2,392.4 L357.6,388.8 L355.8,384.9 L357.8,376.8 L361.0,375.8 Z" fill="#3DD6C4" stroke="#4A170A" stroke-width="1.3" stroke-opacity="0.85"/>
<path d="M352.7,387.1 L355.4,389.5 L358.4,394.7 L357.8,399.2 L353.5,403.4 L348.8,404.1 L344.3,403.8 L341.4,400.2 L340.2,393.2 L341.5,389.6 L345.1,388.2 Z" fill="#3DD6C4" stroke="#4A170A" stroke-width="1.3" stroke-opacity="0.85"/>
<path d="M375.6,388.1 L379.5,382.9 L384.8,381.9 L395.5,383.0 L403.4,386.3 L405.4,391.1 L402.3,397.2 L399.7,398.7 L387.5,399.5 L380.2,398.7 L375.2,395.1 Z" fill="#E8631A" stroke="#4A170A" stroke-width="1.3" stroke-opacity="0.85"/>
<path d="M352.7,406.0 L351.8,399.5 L358.1,394.1 L364.1,392.1 L373.5,392.9 L378.4,396.2 L381.2,403.4 L377.4,412.7 L371.5,415.7 L361.2,416.3 L353.8,413.1 Z" fill="#1E9BD0" stroke="#4A170A" stroke-width="1.3" stroke-opacity="0.85"/>
<path d="M308.0,400.0 L322.0,397.0 L338.0,400.0 L341.0,410.0 L336.0,420.0 L322.0,423.0 L310.0,418.0 Z" fill="#1E9BD0" stroke="#4A170A" stroke-width="1.3" stroke-opacity="0.85"/>
<path d="M328.0,410.0 L342.0,407.0 L358.0,410.0 L362.0,420.0 L356.0,432.0 L342.0,436.0 L332.0,430.0 Z" fill="#8EC04A" stroke="#4A170A" stroke-width="1.3" stroke-opacity="0.85"/>
<path d="M258.0,366.0 L270.0,362.0 L285.0,364.0 L298.0,366.0 L305.0,372.0 L303.0,383.0 L290.0,385.0 L275.0,382.0 L262.0,380.0 L257.0,373.0 Z" fill="#1E9BD0" stroke="#4A170A" stroke-width="1.3" stroke-opacity="0.85"/>
<path d="M266.2,400.0 L255.7,399.3 L253.0,394.8 L253.2,388.2 L253.6,384.2 L258.6,379.9 L265.9,380.1 L273.1,383.4 L274.8,386.0 L276.2,393.9 L272.5,398.1 Z" fill="#F4EC1C" stroke="#4A170A" stroke-width="1.3" stroke-opacity="0.85"/>
<path d="M243.0,280.0 L258.0,277.0 L275.0,279.0 L278.0,290.0 L276.0,297.0 L275.0,307.0 L262.0,308.0 L248.0,307.0 L243.0,296.0 Z" fill="#F4EC1C" stroke="#4A170A" stroke-width="1.3" stroke-opacity="0.85"/>
<path d="M235.8,311.6 L234.9,306.8 L235.7,303.8 L238.6,302.3 L242.6,301.7 L246.7,303.7 L247.3,305.9 L248.0,311.7 L245.7,314.2 L242.7,315.3 L237.4,313.5 Z" fill="#F4EC1C" stroke="#4A170A" stroke-width="1.3" stroke-opacity="0.85"/>
<path d="M219.6,315.8 L220.1,322.5 L217.5,326.7 L210.7,328.4 L204.9,326.2 L202.5,321.5 L202.3,314.6 L204.4,309.2 L207.8,308.3 L213.0,307.0 L217.3,309.6 Z" fill="#F4EC1C" stroke="#4A170A" stroke-width="1.3" stroke-opacity="0.85"/>
<path d="M298.0,275.0 L315.0,272.0 L325.0,278.0 L330.0,290.0 L328.0,305.0 L330.0,318.0 L322.0,327.0 L310.0,325.0 L300.0,318.0 L294.0,305.0 L293.0,290.0 Z" fill="#F4EC1C" stroke="#4A170A" stroke-width="1.3" stroke-opacity="0.85"/>
<path d="M345.7,251.7 L344.4,249.2 L342.4,242.4 L343.4,238.4 L346.5,236.5 L352.1,235.0 L357.9,237.0 L359.6,239.2 L360.3,247.5 L358.4,250.3 L354.3,252.0 Z" fill="#E0131E" stroke="#4A170A" stroke-width="1.3" stroke-opacity="0.85"/>
<path d="M216.0,244.0 L224.0,251.0 L217.0,259.0 L208.0,252.0 Z" fill="#E0131E" stroke="#4A170A" stroke-width="1.3" stroke-opacity="0.85"/>
<path d="M145.4,283.4 L145.5,274.9 L149.2,270.5 L154.9,269.4 L159.0,272.3 L161.8,275.9 L161.4,280.9 L160.0,287.8 L156.6,289.8 L148.9,290.0 L147.6,287.3 Z" fill="#3DD6C4" stroke="#4A170A" stroke-width="1.3" stroke-opacity="0.85"/>
<path d="M137.5,305.0 L150.0,302.5 L162.5,304.0 L172.5,306.0 L175.0,312.5 L170.0,320.0 L165.0,327.5 L157.5,332.5 L150.0,335.0 L143.0,333.0 L140.0,325.0 L137.0,315.0 Z" fill="#1E9BD0" stroke="#4A170A" stroke-width="1.3" stroke-opacity="0.85"/>
<path d="M142.0,334.0 L152.0,334.0 L158.0,340.0 L160.0,352.0 L150.0,354.0 L143.0,350.0 L141.0,342.0 Z" fill="#3DD6C4" stroke="#4A170A" stroke-width="1.3" stroke-opacity="0.85"/>
<path d="M141.0,355.0 L152.0,354.0 L161.0,358.0 L163.0,370.0 L158.0,378.0 L146.0,379.0 L141.0,370.0 Z" fill="#1E9BD0" stroke="#4A170A" stroke-width="1.3" stroke-opacity="0.85"/>
<path d="M165.9,337.1 L169.0,339.4 L169.0,343.3 L168.0,344.9 L166.5,346.3 L162.5,346.5 L159.8,346.4 L157.7,343.4 L158.3,339.2 L159.3,337.8 L164.0,337.0 Z" fill="#F4EC1C" stroke="#4A170A" stroke-width="1.3" stroke-opacity="0.85"/>
<path d="M71.7,316.0 L76.3,316.4 L80.4,316.9 L81.7,320.1 L82.1,324.8 L80.0,326.8 L75.5,328.0 L71.1,327.4 L68.8,325.6 L67.7,322.5 L68.8,317.6 Z" fill="#E0131E" stroke="#4A170A" stroke-width="1.3" stroke-opacity="0.85"/>
<path d="M40.7,271.9 L45.8,271.3 L48.9,272.0 L49.2,273.7 L49.9,278.4 L48.9,280.1 L44.8,281.2 L41.2,281.1 L38.3,278.9 L37.9,277.2 L39.0,272.8 Z" fill="#141414" stroke="#4A170A" stroke-width="1.3" stroke-opacity="0.85"/>
<path d="M146.0,248.1 L147.3,251.4 L147.8,257.3 L145.6,261.1 L143.1,262.9 L137.9,262.0 L134.3,259.4 L134.0,256.2 L135.7,250.1 L138.0,247.4 L141.7,247.7 Z" fill="#FBFBFB" stroke="#4A170A" stroke-width="1.3" stroke-opacity="0.75"/>
<path d="M151.0,402.5 L160.0,405.0 L165.0,420.0 L175.0,424.0 L184.0,430.0 L180.0,442.5 L177.5,452.5 L172.5,460.0 L166.0,452.5 L160.0,440.0 L155.0,422.5 Z" fill="#8EC04A" stroke="#4A170A" stroke-width="1.3" stroke-opacity="0.85"/>
<path d="M168.0,455.0 L176.0,455.0 L179.0,465.0 L176.0,470.0 L171.0,465.0 Z" fill="#3DD6C4" stroke="#4A170A" stroke-width="1.3" stroke-opacity="0.85"/>
<path d="M186.0,491.0 L197.5,492.5 L207.5,492.5 L219.0,494.0 L221.0,500.0 L212.5,505.0 L205.0,510.0 L207.5,520.0 L212.5,530.0 L205.0,535.0 L197.5,525.0 L192.5,515.0 L189.0,502.5 Z" fill="#1E9BD0" stroke="#4A170A" stroke-width="1.3" stroke-opacity="0.85"/>
<path d="M196.0,500.0 L212.0,495.0 L224.0,497.0 L225.0,505.0 L214.0,510.0 L212.0,522.0 L222.0,530.0 L226.0,536.0 L214.0,540.0 L206.0,536.0 L200.0,525.0 Z" fill="#1E9BD0" stroke="#4A170A" stroke-width="1.3" stroke-opacity="0.85"/>
<path d="M207.8,529.9 L205.0,529.2 L203.9,522.8 L205.0,519.2 L206.7,518.0 L212.1,516.5 L215.3,518.7 L217.3,521.7 L218.3,526.0 L215.9,529.7 L213.5,530.9 Z" fill="#F4EC1C" stroke="#4A170A" stroke-width="1.3" stroke-opacity="0.85"/>
<path d="M224.4,552.7 L222.2,555.0 L217.0,554.6 L213.4,553.2 L212.6,550.4 L212.4,545.6 L214.1,543.7 L217.1,541.8 L222.0,542.9 L223.9,545.3 L224.4,549.8 Z" fill="#E0131E" stroke="#4A170A" stroke-width="1.3" stroke-opacity="0.85"/>
<path d="M223.7,541.2 L224.7,539.0 L227.4,537.6 L233.6,537.0 L236.0,538.0 L237.4,540.5 L238.2,543.8 L236.0,546.4 L232.1,546.6 L226.4,546.7 L224.2,545.1 Z" fill="#1E9BD0" stroke="#4A170A" stroke-width="1.3" stroke-opacity="0.85"/>
<path d="M224.5,568.2 L219.1,567.1 L216.6,565.3 L216.3,561.7 L216.2,558.4 L218.4,556.0 L221.9,555.3 L226.0,555.7 L227.5,557.7 L227.6,562.8 L227.0,566.7 Z" fill="#1E9BD0" stroke="#4A170A" stroke-width="1.3" stroke-opacity="0.85"/>
<path d="M241.7,590.7 L239.1,592.3 L232.7,592.8 L227.0,591.7 L224.9,590.5 L223.7,587.1 L226.6,585.0 L231.9,584.1 L237.5,584.4 L241.6,585.1 L242.8,588.3 Z" fill="#F4EC1C" stroke="#4A170A" stroke-width="1.3" stroke-opacity="0.85"/>
<path d="M287.1,544.7 L284.0,543.0 L283.6,538.1 L285.9,536.2 L291.5,533.8 L296.6,534.2 L300.3,536.6 L301.3,540.5 L300.2,542.7 L297.8,544.9 L289.6,546.1 Z" fill="#8EC04A" stroke="#4A170A" stroke-width="1.3" stroke-opacity="0.85"/>
<path d="M311.1,505.2 L309.4,507.6 L303.2,507.5 L301.3,507.0 L299.0,504.6 L299.0,499.6 L301.1,497.9 L303.4,497.0 L309.2,497.6 L311.4,498.6 L311.5,501.8 Z" fill="#1E9BD0" stroke="#4A170A" stroke-width="1.3" stroke-opacity="0.85"/>
<path d="M302.8,378.4 L304.5,379.7 L305.8,382.4 L304.9,386.2 L301.4,387.7 L296.4,387.8 L294.8,386.9 L292.7,384.8 L292.6,380.6 L293.5,378.8 L299.6,377.7 Z" fill="#1E9BD0" stroke="#4A170A" stroke-width="1.3" stroke-opacity="0.85"/>
<path d="M494.6,209.0 L505.7,208.3 L513.7,210.6 L524.0,213.0 L528.0,215.0 L528.0,222.0 L521.7,223.0 L514.9,222.0 L508.0,223.0 L504.6,225.4 L500.0,223.0 L495.4,219.7 Z" fill="#1E9BD0" stroke="#4A170A" stroke-width="1.3" stroke-opacity="0.85"/>
<path d="M511.7,227.6 L511.1,224.2 L511.6,221.8 L515.1,220.8 L520.9,220.2 L524.7,220.6 L527.5,223.2 L526.4,226.3 L525.9,227.9 L522.3,229.1 L514.7,228.8 Z" fill="#8EC04A" stroke="#4A170A" stroke-width="1.3" stroke-opacity="0.85"/>
<path d="M537.7,212.0 L539.2,214.3 L540.6,216.3 L541.0,221.5 L539.1,224.8 L535.5,225.7 L530.8,225.2 L528.8,223.1 L528.2,217.0 L529.3,214.9 L531.1,212.0 Z" fill="#F4EC1C" stroke="#4A170A" stroke-width="1.3" stroke-opacity="0.85"/>
<path d="M534.5,231.0 L529.9,230.6 L527.3,230.0 L526.9,227.6 L528.1,226.3 L530.0,225.4 L533.2,225.2 L537.0,225.7 L538.0,226.5 L538.0,228.8 L536.4,230.7 Z" fill="#8EC04A" stroke="#4A170A" stroke-width="1.3" stroke-opacity="0.85"/>
<path d="M550.5,223.0 L547.3,223.8 L542.4,222.6 L540.3,221.4 L539.7,217.6 L541.1,214.6 L544.3,213.3 L549.3,213.4 L551.3,214.6 L552.4,218.7 L551.9,221.3 Z" fill="#1E9BD0" stroke="#4A170A" stroke-width="1.3" stroke-opacity="0.85"/>
<path d="M536.0,220.0 L548.0,218.0 L558.0,219.0 L559.0,228.0 L550.0,231.0 L538.0,230.0 Z" fill="#E8631A" stroke="#4A170A" stroke-width="1.3" stroke-opacity="0.85"/>
<path d="M555.3,220.8 L556.3,217.7 L561.2,216.3 L568.4,216.8 L570.1,219.8 L571.0,227.5 L568.7,230.8 L566.6,233.4 L559.6,232.9 L555.6,231.5 L553.8,226.6 Z" fill="#1E9BD0" stroke="#4A170A" stroke-width="1.3" stroke-opacity="0.85"/>
<path d="M581.8,219.0 L582.1,221.5 L580.2,223.0 L577.3,224.2 L570.8,223.5 L569.6,221.6 L568.8,218.3 L569.6,216.4 L572.7,215.5 L577.4,215.1 L580.2,216.2 Z" fill="#E0131E" stroke="#4A170A" stroke-width="1.3" stroke-opacity="0.85"/>
<path d="M583.0,210.0 L595.0,206.7 L610.0,202.5 L622.5,196.0 L633.0,193.0 L643.0,190.0 L649.6,181.7 L647.5,175.4 L641.0,170.0 L635.0,163.0 L632.0,159.0 L640.0,158.0 L648.0,162.0 L655.0,160.0 L662.0,157.0 L668.0,156.0 L674.0,160.0 L677.0,165.0 L680.0,169.0 L673.5,177.5 L664.0,188.0 L662.0,195.0 L653.8,200.4 L647.5,208.8 L635.0,214.0 L622.5,219.0 L616.0,231.7 L608.0,235.8 L597.5,233.8 L587.0,231.7 L578.0,230.0 L578.0,208.0 Z" fill="#1E9BD0" stroke="#4A170A" stroke-width="1.3" stroke-opacity="0.85"/>
<path d="M622.5,169.0 L631.0,166.0 L636.0,175.4 L642.0,179.6 L641.0,189.0 L635.0,193.0 L631.0,188.0 L626.7,178.5 L622.5,173.0 Z" fill="#E8631A" stroke="#4A170A" stroke-width="1.3" stroke-opacity="0.85"/>
<path d="M599.2,218.4 L600.3,220.5 L598.8,225.9 L597.9,227.4 L593.6,227.6 L587.7,227.7 L585.4,224.5 L585.6,221.3 L586.9,218.0 L590.0,216.7 L596.1,217.4 Z" fill="#8EC04A" stroke="#4A170A" stroke-width="1.3" stroke-opacity="0.85"/>
<path d="M601.1,229.2 L599.4,230.6 L593.7,232.0 L590.8,231.0 L589.2,228.9 L589.3,223.8 L591.0,221.1 L593.5,219.8 L598.7,220.5 L600.3,222.1 L602.3,224.6 Z" fill="#8EC04A" stroke="#4A170A" stroke-width="1.3" stroke-opacity="0.85"/>
<path d="M630.0,221.7 L629.2,220.3 L629.2,217.5 L630.4,216.2 L633.4,216.1 L635.2,216.5 L636.4,218.0 L636.6,220.4 L636.1,221.8 L634.1,222.8 L630.9,222.6 Z" fill="#F4EC1C" stroke="#4A170A" stroke-width="1.3" stroke-opacity="0.85"/>
<path d="M639.1,212.6 L641.4,211.4 L644.3,211.3 L646.4,211.8 L647.7,213.9 L648.1,217.0 L647.0,218.0 L645.2,218.8 L641.8,218.7 L639.9,217.4 L639.0,215.7 Z" fill="#8EC04A" stroke="#4A170A" stroke-width="1.3" stroke-opacity="0.85"/>
<path d="M638.4,228.8 L642.5,229.6 L643.1,230.8 L643.6,233.9 L643.2,236.9 L642.0,238.8 L637.6,239.3 L634.9,237.8 L634.0,235.5 L634.3,231.8 L635.8,229.2 Z" fill="#1E9BD0" stroke="#4A170A" stroke-width="1.3" stroke-opacity="0.85"/>
<path d="M602.7,249.8 L603.9,252.7 L604.2,259.8 L601.1,262.0 L596.8,263.2 L589.2,262.4 L587.6,260.8 L585.8,254.8 L587.6,251.5 L592.3,248.1 L596.3,248.8 Z" fill="#E8631A" stroke="#4A170A" stroke-width="1.3" stroke-opacity="0.85"/>
<path d="M582.2,267.4 L579.5,264.6 L579.1,258.6 L580.4,254.5 L583.1,252.7 L586.7,252.0 L589.5,253.8 L592.2,257.2 L591.9,263.8 L589.8,268.1 L587.1,268.8 Z" fill="#1E9BD0" stroke="#4A170A" stroke-width="1.3" stroke-opacity="0.85"/>
<path d="M615.2,258.4 L614.2,257.3 L613.8,253.2 L615.7,250.8 L619.7,249.7 L621.6,250.7 L624.5,251.6 L625.0,254.2 L624.6,258.1 L621.8,260.2 L618.5,260.1 Z" fill="#1B3B2B" stroke="#4A170A" stroke-width="1.3" stroke-opacity="0.85"/>
<path d="M617.0,262.0 L628.0,259.0 L632.0,268.0 L630.0,276.0 L620.0,275.0 Z" fill="#F4EC1C" stroke="#4A170A" stroke-width="1.3" stroke-opacity="0.85"/>
<path d="M245.1,310.7 L245.9,316.1 L248.4,320.9 L249.5,326.2 L251.9,331.0 M224.6,323.6 L227.2,328.0 L228.7,332.9 M204.7,310.6 L206.3,305.3 L208.8,300.3 L210.2,295.0 M210.2,295.0 L215.7,294.0 L220.6,291.2 M229.8,268.3 L223.5,270.5 M229.8,268.3 L234.5,273.0 L240.1,276.2 L245.4,280.1 M150.7,159.3 L155.4,163.5 M689.0,194.0 L686.7,193.3 M689.2,179.2 L684.7,185.5 M686.7,193.3 L684.7,185.5 M669.1,191.6 L672.0,196.6 L676.3,200.5 M659.6,195.6 L660.5,204.2 M659.6,195.6 L664.3,193.3 L669.1,191.6 M599.1,180.2 L604.3,183.1 L608.8,187.0 M593.2,183.7 L593.5,189.2 L593.6,194.8 M608.8,187.0 L607.9,189.6 M607.9,189.6 L603.1,191.2 L598.7,193.9 L593.6,194.8 M292.7,302.6 L286.5,301.7 L280.3,303.1 L274.1,301.9 M261.9,312.4 L255.4,310.0 L248.9,307.5 M261.9,312.4 L268.0,309.7 L273.2,305.4 M261.9,312.4 L262.2,319.7 L263.1,327.0 M207.4,227.2 L214.8,222.9 M207.4,227.2 L209.5,231.9 L209.3,237.3 L210.7,242.1 L212.6,246.9 M230.0,242.5 L229.7,242.9 M131.5,257.9 L136.4,256.1 L141.2,254.1 L145.7,251.4 L150.3,249.1 L155.5,248.1 L160.2,245.7 M163.1,303.4 L168.5,301.0 L174.3,299.5 L179.6,296.6 M185.2,306.4 L183.9,311.4 L180.8,315.6 L178.5,320.3 L176.5,324.9 M185.2,306.4 L183.2,301.0 L179.6,296.6 M204.7,310.6 L199.9,309.3 L195.1,307.9 L189.9,308.0 L185.2,306.4 M212.6,246.9 L212.3,247.3 M223.5,270.5 L216.5,266.6 M229.7,242.9 L231.3,249.1 L231.9,255.6 L234.2,261.6 M229.8,268.3 L234.2,261.6 M188.5,222.8 L194.9,223.9 L201.0,226.4 L207.4,227.2 M212.3,247.3 L205.2,249.9 L197.7,250.4 M210.2,295.0 L206.0,291.1 L201.1,288.1 L197.2,283.9 M179.6,296.6 L180.8,291.1 M180.8,291.1 L186.3,288.8 L191.5,285.8 L197.2,283.9 M216.5,266.6 L210.2,267.4 L204.5,270.1 L198.4,271.8 M197.7,250.4 L196.1,256.0 L195.7,261.7 L194.6,267.4 M198.4,271.8 L194.6,267.4 M169.9,141.5 L178.0,135.7 M169.9,141.5 L171.2,146.6 L171.3,151.9 M184.7,152.0 L182.8,146.8 L181.9,141.3 L179.8,136.2 M179.8,136.2 L178.0,135.7 M155.4,163.5 L160.6,159.5 L165.7,155.4 L171.3,151.9 M167.7,139.6 L169.9,141.5 M187.8,131.4 L191.6,139.4 M187.8,131.4 L179.8,136.2 M226.4,169.4 L224.8,174.9 L222.4,180.1 L220.6,185.5 M218.6,185.7 L220.6,185.5 M607.7,281.3 L598.7,281.2 M598.7,281.2 L595.0,284.5 M595.0,284.5 L594.8,285.4 M602.5,301.2 L599.3,296.3 L596.9,290.9 L594.8,285.4 M230.0,242.5 L235.2,241.7 L240.4,241.7 L245.7,242.5 M249.8,195.4 L244.7,192.8 L239.3,191.2 L234.0,189.6 M251.2,200.8 L248.0,205.0 L244.4,208.9 M244.4,208.9 L235.9,210.1 M234.0,189.6 L230.8,191.1 M230.8,191.1 L231.4,198.0 L230.7,204.8 M230.7,204.8 L235.9,210.1 M254.7,220.0 L250.6,216.9 L247.1,213.3 L244.4,208.9 M233.7,223.9 L235.8,217.2 L235.9,210.1 M220.6,185.5 L226.2,187.4 L230.8,191.1 M242.1,177.4 L237.2,182.9 L234.0,189.6 M216.7,209.2 L223.4,206.1 L230.7,204.8 M234.2,261.6 L242.0,259.8 M253.9,269.5 L250.6,265.5 L246.6,262.4 L242.0,259.8 M242.0,259.8 L246.8,254.3 M673.7,172.5 L671.8,178.3 L672.0,184.4 M672.0,184.4 L670.8,185.4 M684.7,185.5 L678.4,185.0 L672.0,184.4 M669.1,191.6 L670.8,185.4 M679.6,200.4 L683.4,197.1 L686.7,193.3 M638.8,218.4 L646.1,220.7 M638.8,218.4 L637.1,214.0 M630.3,230.1 L630.7,236.9 L633.0,243.3 M631.7,228.1 L630.3,230.1 M631.7,228.1 L634.0,227.3 M633.0,243.3 L637.9,244.2 M634.0,227.3 L635.7,222.5 L638.8,218.4 M631.7,228.1 L627.1,223.3 L623.7,217.7 M630.3,230.1 L622.1,232.2 M622.1,232.2 L615.8,224.9 M633.0,243.3 L629.8,244.8 M632.4,259.9 L630.1,255.1 L626.3,251.3 M626.3,251.3 L629.8,244.8 M622.1,232.2 L619.4,238.9 M629.8,244.8 L625.1,241.0 L619.4,238.9 M606.9,234.4 L611.7,236.7 L615.3,240.8 M619.4,238.9 L615.3,240.8 M271.0,328.5 L276.2,324.7 L280.0,319.5 M280.0,319.5 L288.3,320.5 M273.2,305.4 L276.3,309.7 L277.0,315.1 L280.0,319.5 M294.2,305.2 L293.2,310.7 L290.9,315.6 L288.3,320.5 M302.0,326.1 L294.6,327.0 M249.6,118.3 L252.4,121.6 M252.4,121.6 L250.5,131.0 M250.5,131.0 L252.6,132.5 M266.5,193.4 L264.3,198.7 L261.3,203.6 M587.3,210.5 L586.3,203.2 M601.1,205.2 L597.0,200.7 L593.3,195.8 M586.3,203.2 L589.8,199.5 L593.3,195.8 M256.2,219.9 L258.4,215.1 L260.6,210.4 L262.5,205.5 M264.4,232.3 L269.9,236.4 L275.7,239.9 M264.4,224.6 L264.4,232.3 M271.9,256.8 L269.8,263.6 M271.9,256.8 L268.5,250.3 M573.3,290.2 L567.6,284.7 M567.6,284.7 L561.8,288.1 M602.5,301.4 L597.6,303.3 L592.6,304.3 L587.5,305.3 M594.8,285.4 L590.6,290.4 L585.2,294.1 M595.0,284.5 L589.4,281.1 L583.3,278.7 M595.9,271.8 L587.2,268.5 M598.7,281.2 L595.9,271.8 M587.2,268.5 L582.2,273.5 M603.3,205.4 L611.2,199.5 M611.2,199.5 L615.1,200.9 M607.9,189.6 L608.8,194.8 L611.2,199.5 M593.6,194.8 L593.3,195.2 M593.3,195.2 L593.3,195.8 M613.0,183.8 L618.7,186.1 L624.8,187.3 M624.8,187.3 L623.8,192.5 L623.9,197.8 M608.8,187.0 L613.0,183.8 M592.5,247.6 L598.1,249.1 M595.9,271.8 L599.8,267.6 L603.7,263.2 M603.7,263.2 L606.4,263.4 M606.4,263.4 L608.8,267.7 M302.0,326.1 L306.5,329.3 L310.7,332.7 M242.3,119.0 L240.0,110.5 M187.9,131.1 L193.5,129.6 L199.2,128.9 M199.2,128.9 L202.8,130.9 M187.8,131.4 L187.9,131.1 M191.6,139.4 L199.1,139.5 M202.8,130.9 L199.1,139.5 M199.1,139.5 L201.4,144.6 M213.0,155.4 L210.0,150.0 L206.2,145.2 M184.4,98.8 L189.9,100.5 L195.4,102.5 M195.4,102.5 L197.4,100.6 M197.4,100.6 L196.2,92.7 M187.9,131.1 L186.6,127.4 M178.0,135.7 L174.7,131.8 L172.5,127.3 M186.6,127.4 L182.0,123.8 L176.8,120.9 M290.2,147.9 L284.3,145.3 L277.9,144.4 M277.9,144.4 L278.4,149.5 L277.2,154.5 M310.5,154.8 L303.8,153.7 M252.6,132.5 L253.9,142.1 M253.9,142.1 L258.4,144.5 L263.4,145.2 M263.4,145.2 L262.6,153.5 M586.3,203.2 L576.9,200.3 M593.3,195.2 L587.3,193.6 L581.9,190.5 M576.5,199.7 L576.6,190.3 M499.2,192.5 L504.6,199.3 M499.2,192.5 L504.4,187.0 M504.6,199.3 L505.9,199.3 M475.7,323.3 L477.0,317.8 L477.9,312.2 M485.2,311.1 L477.9,312.2 M640.2,187.1 L644.5,182.3 L649.7,178.4 M624.8,187.3 L627.5,185.4 M627.5,185.4 L627.0,180.3 L627.3,175.2 M613.0,183.8 L614.2,178.3 L613.3,172.8 M601.8,234.3 L594.8,235.0 L588.1,236.9 M601.5,247.1 L598.1,249.1 M603.2,235.0 L602.6,241.1 L601.5,247.1 M587.2,238.0 L588.1,236.9 M587.2,238.0 L589.7,242.8 L592.5,247.6 M567.6,284.7 L568.3,277.9 M579.4,275.4 L575.5,274.2 M568.3,277.9 L575.5,274.2 M568.3,277.9 L562.7,276.3 L557.7,273.3 M609.4,260.3 L618.4,259.3 M609.4,260.3 L608.6,255.0 L609.2,249.8 M609.2,249.8 L614.1,246.6 M614.1,246.6 L621.4,252.7 M606.4,263.4 L609.4,260.3 M601.5,247.1 L609.2,249.8 M615.3,240.8 L614.1,246.6 M326.8,349.8 L330.5,346.2 L334.1,342.5 M324.2,328.6 L325.5,329.1 M325.5,329.1 L328.6,333.4 L331.4,337.9 L334.1,342.5 M334.2,342.5 L338.1,346.9 L341.8,351.5 L346.5,355.2 M345.6,386.8 L340.3,390.2 L334.3,392.4 L328.9,395.6 M345.6,386.8 L344.9,380.2 L343.3,373.9 M342.4,372.8 L343.3,373.9 M342.4,372.8 L337.4,370.8 L331.9,370.9 L326.8,369.2 M346.5,355.2 L346.1,361.3 L342.8,366.7 L342.4,372.8 M326.8,349.8 L327.4,356.3 L326.5,362.7 L326.8,369.2 M334.2,342.5 L334.1,342.5 M209.1,132.0 L212.4,137.6 M209.1,132.0 L213.8,129.0 L217.6,124.9 M222.5,134.6 L222.4,128.9 M222.5,134.6 L214.3,138.4 M214.3,138.4 L212.4,137.6 M222.4,128.9 L218.1,124.9 M217.6,124.9 L218.1,124.9 M204.8,130.5 L202.8,130.9 M204.8,130.5 L209.1,132.0 M206.2,145.2 L212.4,137.6 M208.0,114.8 L213.0,119.6 L217.6,124.9 M204.8,130.5 L206.2,125.3 L208.0,120.2 L208.0,114.8 M226.8,142.6 L226.8,138.0 M226.8,138.0 L222.5,134.6 M203.1,100.9 L206.5,97.0 L209.0,92.6 M203.1,100.9 L206.6,105.6 L210.4,110.2 M210.4,110.2 L210.6,110.1 M210.6,110.1 L216.4,102.4 M197.4,100.6 L203.1,100.9 M207.7,113.9 L210.4,110.2 M208.0,114.8 L207.7,113.9 M224.7,115.7 L220.0,113.7 L214.9,112.8 L210.6,110.1 M224.7,115.7 L222.2,120.9 L218.1,124.9 M226.9,115.0 L224.7,115.7 M191.5,119.2 L185.7,112.4 M191.5,119.2 L196.4,119.4 M201.4,114.4 L194.7,107.4 M201.4,114.4 L196.4,119.4 M194.7,107.4 L190.1,109.6 L185.7,112.4 M186.6,127.4 L191.5,119.2 M181.5,111.5 L185.7,112.4 M199.2,128.9 L196.4,119.4 M195.4,102.5 L194.7,107.4 M207.7,113.9 L201.4,114.4 M227.7,115.2 L231.9,120.4 M222.4,128.9 L230.8,126.6 M495.1,192.0 L490.2,200.7 M495.1,192.0 L499.2,192.5 M504.6,199.3 L499.1,206.5 M499.1,206.5 L495.3,206.9 M490.2,200.7 L495.3,206.9 M551.5,230.7 L556.2,229.9 M551.5,230.7 L545.0,237.8 M545.0,237.8 L545.7,246.1 M559.9,234.3 L557.7,240.5 L555.0,246.5 M575.5,274.2 L573.5,268.5 M536.8,233.0 L545.0,237.8 M536.8,233.0 L536.3,230.4 M340.5,228.6 L338.0,223.4 L335.4,218.3 M332.3,232.1 L340.5,228.6 M336.9,305.6 L341.4,308.7 L344.8,312.9 M398.1,311.4 L403.2,311.0 L408.3,310.3 L413.2,308.9 L418.4,309.3 M398.1,311.4 L397.9,304.7 L395.4,298.3 L395.0,291.7 M375.7,313.6 L370.7,316.3 L365.1,317.0 L359.8,318.9 L354.4,320.6 M375.1,297.9 L380.2,296.8 L385.4,295.8 L390.1,293.6 L395.0,291.7 M271.9,256.8 L280.8,256.7 M637.9,169.7 L639.7,168.7 M637.9,169.7 L636.7,169.6 M636.7,169.6 L633.3,165.4 L629.1,162.2 M491.6,187.3 L495.1,192.0 M566.5,235.8 L573.8,231.0 M566.5,235.8 L568.5,240.8 L568.9,246.1 M573.8,231.0 L577.7,235.6 L582.9,238.6 M582.9,238.6 L580.1,243.1 L576.9,247.3 M559.9,234.3 L566.5,235.8 M587.2,238.0 L582.9,238.6 M574.2,225.4 L573.8,231.0 M556.7,218.3 L557.2,212.0 M567.0,220.1 L569.3,212.0 M226.8,138.0 L234.0,133.8 M250.5,131.0 L247.1,131.7 M519.4,211.1 L519.8,212.5 M495.3,206.9 L493.0,211.8 L490.0,216.3 M496.4,222.3 L490.0,216.3 M523.8,228.3 L529.1,225.9 M335.6,300.5 L337.7,294.1 L341.4,288.5 L343.5,282.1 M336.9,305.6 L335.6,300.5 M498.5,238.8 L497.2,231.5 M498.5,238.8 L503.0,241.9 L508.0,244.1 M497.2,231.5 L503.4,232.2 L509.5,230.8 M509.5,230.8 L510.4,231.8 M494.1,244.9 L498.5,238.8 M496.4,222.3 L496.4,230.7 M511.0,224.0 L509.5,230.8 M496.4,230.7 L497.2,231.5 M536.8,233.0 L532.1,238.1 L527.3,243.2 M490.2,200.7 L486.3,200.6 M490.0,216.3 L488.9,216.4 M496.4,230.7 L491.0,231.4 L486.0,233.2 M345.1,281.4 L347.8,285.7 L351.7,289.0 L354.4,293.3 L358.5,296.4 M375.1,297.9 L370.6,294.3 M370.6,294.3 L364.5,295.2 L358.5,296.4 M354.4,255.7 L352.9,261.3 L353.8,267.3 L352.1,272.9 M352.1,272.9 L349.3,274.7 M368.6,255.9 L370.3,261.8 M370.3,261.8 L365.5,267.4 L362.0,273.9 M362.0,273.9 L352.1,272.9 M345.1,281.4 L349.3,274.7 M362.0,273.9 L365.7,277.7 L370.5,280.2 M370.5,280.2 L369.6,287.2 L370.6,294.3 M382.7,245.8 L385.8,243.8 M377.0,264.5 L381.4,261.2 L385.8,258.0 M377.0,264.5 L377.9,270.2 L379.9,275.6 M379.9,275.6 L386.3,276.5 M370.3,261.8 L377.0,264.5 M370.5,280.2 L375.4,278.2 L379.9,275.6 M396.8,284.3 L391.7,280.2 L386.3,276.5" fill="none" stroke="#7E7E7E" stroke-width="1.3" stroke-opacity="0.85"/>
<path d="M47.3,280.9 L51.9,276.9 L55.3,271.9 M55.3,271.9 L53.8,266.6 M55.3,271.9 L61.8,275.2 L68.0,279.1 M62.1,293.3 L63.7,288.4 L65.8,283.7 L68.0,279.1 M224.6,323.6 L229.9,318.3 L233.6,311.9 M233.6,311.9 L239.4,312.3 L245.1,310.7 M228.7,332.9 L234.4,331.5 L240.3,332.1 L246.2,332.5 L251.9,331.0 M85.1,224.1 L89.3,220.1 L93.8,216.5 L98.5,213.1 L102.7,209.1 L107.7,206.1 M107.7,206.1 L104.0,200.7 L102.1,194.4 L99.0,188.7 M71.0,321.0 L76.7,320.6 L82.4,319.5 L88.2,319.6 L93.8,318.2 M88.7,334.8 L90.5,329.6 L92.1,324.3 L95.1,319.6 M95.1,319.6 L93.8,318.2 M91.9,309.5 L93.8,318.2 M82.6,302.4 L87.2,306.0 L91.9,309.5 M69.9,304.8 L69.3,311.9 L68.7,319.1 M102.5,321.0 L107.3,318.3 L111.4,314.6 L116.5,312.4 M102.5,321.0 L95.1,319.6 M116.5,312.4 L115.2,306.9 L111.4,302.4 L109.8,297.0 M91.9,309.5 L94.1,304.5 L98.2,300.9 L101.1,296.3 M109.8,297.0 L101.1,296.3 M85.0,285.1 L81.7,280.4 L78.2,275.8 M85.0,285.1 L90.0,286.1 L95.1,286.7 M95.1,286.7 L99.5,283.5 L101.9,278.5 L106.0,275.1 M106.0,275.1 L101.9,271.5 L97.6,268.2 L93.1,264.9 M78.2,275.8 L79.3,270.6 L81.6,265.9 M80.8,297.3 L83.7,291.5 L85.0,285.1 M68.0,279.1 L73.2,277.6 L78.2,275.8 M101.1,296.3 L98.7,291.1 L95.1,286.7 M108.8,274.9 L106.0,275.1 M108.8,274.9 L112.8,278.0 L116.0,282.0 L119.7,285.4 M119.7,285.4 L115.6,288.6 L112.8,292.9 L109.8,297.0 M120.2,251.8 L117.7,256.3 L116.5,261.4 L114.0,265.9 L110.4,269.9 L108.8,274.9 M115.3,244.1 L120.2,251.8 M101.9,242.9 L108.5,244.4 L115.3,244.1 M187.3,499.5 L193.2,494.9 M182.8,487.1 L187.7,485.2 M193.2,494.9 L189.6,490.5 L187.7,485.2 M176.2,471.6 L181.0,473.2 L185.4,475.8 L190.3,477.1 M176.2,471.6 L175.9,471.7 M187.7,485.2 L190.3,477.1 M198.9,473.2 L190.3,477.1 M193.2,494.9 L198.7,495.4 M198.7,495.4 L199.2,495.1 M198.9,473.2 L201.2,477.9 L203.7,482.3 M199.2,495.1 L201.5,488.7 L203.7,482.3 M283.4,278.7 L289.3,276.7 L294.8,273.9 M283.4,278.7 L283.0,285.0 M305.1,286.6 L300.3,289.9 L295.3,292.5 M294.8,273.9 L298.7,277.8 L302.3,281.9 L305.1,286.6 M283.0,285.0 L288.9,289.1 L295.3,292.5 M207.6,318.8 L204.7,310.6 M207.6,318.8 L213.2,320.8 L218.7,322.9 L224.6,323.6 M233.6,311.9 L231.0,306.0 L229.5,299.6 L226.1,294.1 M226.1,294.1 L220.6,291.2 M262.6,280.5 L257.8,278.8 L253.6,275.9 M262.6,280.5 L265.0,286.1 L266.5,292.1 M266.5,292.1 L261.2,294.3 L255.8,296.3 L250.6,298.7 M250.6,298.7 L247.3,293.3 L243.0,288.7 M253.6,275.9 L245.4,280.1 M245.4,280.1 L243.0,288.7 M271.6,295.0 L274.8,291.0 L278.8,287.8 L283.0,285.0 M278.0,272.7 L283.4,278.7 M273.3,271.5 L278.0,272.7 M273.3,271.5 L267.6,275.6 L262.6,280.5 M271.6,295.0 L266.5,292.1 M226.1,294.1 L232.0,292.9 L237.2,290.0 L243.0,288.7 M245.1,310.7 L248.9,307.5 M248.9,307.5 L250.6,298.7 M223.5,270.5 L222.7,275.7 L221.3,280.8 L221.8,286.1 L220.6,291.2 M125.5,227.7 L122.8,222.9 L121.0,217.7 L118.5,212.8 L116.2,207.9 M125.5,227.7 L131.1,226.8 L136.7,226.3 L142.5,226.7 L148.0,224.9 M116.2,207.9 L120.9,204.5 L124.5,199.8 L129.0,196.2 L133.4,192.5 M148.0,224.9 L150.8,219.8 L151.7,214.0 L153.9,208.7 M153.9,208.7 L151.3,203.9 L149.8,198.6 L147.4,193.7 M147.4,193.7 L140.3,193.9 L133.4,192.5 M115.3,244.1 L118.9,238.8 L122.5,233.4 L125.5,227.7 M107.7,206.1 L116.2,207.9 M126.1,182.6 L130.6,186.9 L133.4,192.5 M159.2,175.9 L164.6,175.9 L169.5,178.6 L175.1,178.0 L179.9,181.1 L185.3,181.1 M192.0,196.8 L190.5,191.2 L188.0,186.1 L185.3,181.1 M185.3,210.7 L188.2,206.4 L189.9,201.5 L192.0,196.8 M185.3,210.7 L180.1,210.1 L174.8,210.8 L169.6,209.1 L164.4,209.1 L159.1,209.4 L153.9,208.7 M159.2,175.9 L156.1,180.2 L152.6,184.3 L150.3,189.2 L147.4,193.7 M159.2,175.9 L157.1,169.8 L155.4,163.5 M292.9,569.9 L293.4,560.9 M299.7,555.9 L293.4,560.9 M301.1,555.8 L299.7,555.9 M169.4,448.5 L174.3,446.2 L177.7,441.8 L182.7,439.8 M169.4,448.5 L173.1,452.5 L177.9,455.4 L181.9,459.1 M181.9,459.1 L189.6,457.1 M189.6,457.1 L189.5,450.0 L189.5,443.0 M189.5,443.0 L182.7,439.8 M176.2,471.6 L179.3,465.4 L181.9,459.1 M164.4,448.4 L169.4,448.5 M199.5,471.8 L198.9,473.2 M196.8,461.4 L198.2,466.6 L199.5,471.8 M196.8,461.4 L189.6,457.1 M162.3,443.4 L164.0,437.2 L166.6,431.5 L169.7,425.9 M182.7,439.8 L180.8,435.0 L180.6,429.9 M169.7,425.9 L175.4,427.4 L180.6,429.9 M245.3,613.2 L248.0,606.3 M260.4,607.6 L254.2,607.1 L248.0,606.3 M264.1,601.9 L260.8,597.3 M260.8,597.3 L254.3,596.3 L247.7,596.6 M248.0,606.3 L246.3,599.9 M246.3,599.9 L247.7,596.6 M246.3,599.9 L240.6,601.3 L234.7,601.3 M204.5,534.3 L205.0,533.9 M205.0,533.9 L210.4,535.1 L215.4,537.1 L220.4,539.5 M213.3,547.1 L217.6,544.0 L220.4,539.5 M310.1,509.4 L303.5,508.1 M303.5,508.1 L300.7,513.0 M300.7,513.0 L301.9,520.1 L302.1,527.3 M302.5,527.5 L302.1,527.3 M295.3,292.5 L293.6,297.5 L292.7,302.6 M271.6,295.0 L274.1,301.9 M273.2,305.4 L274.1,301.9 M227.6,339.7 L231.3,343.7 L235.4,347.4 L239.0,351.6 M239.0,351.6 L244.1,349.7 L249.7,349.5 L254.9,347.8 M228.7,332.9 L227.6,339.7 M251.9,331.0 L253.4,331.8 M254.9,347.8 L254.8,342.4 L253.8,337.2 L253.4,331.8 M263.1,327.0 L257.9,328.7 L253.4,331.8 M214.8,222.9 L219.9,223.7 L224.9,225.2 L229.6,227.5 M229.6,227.5 L230.4,232.5 L229.7,237.5 L230.0,242.5 M212.6,246.9 L218.5,246.4 L224.2,244.8 L229.7,242.9 M119.7,285.4 L120.8,285.4 M120.2,251.8 L125.3,255.8 L131.5,257.9 M120.8,285.4 L123.7,281.0 L126.8,276.6 L130.8,273.0 L134.2,269.0 M131.5,257.9 L133.3,263.3 L134.2,269.0 M148.0,224.9 L150.7,230.3 L154.5,235.1 L157.3,240.4 L160.2,245.7 M188.5,222.8 L187.9,216.5 L185.3,210.7 M181.3,237.8 L176.3,242.0 L170.1,244.4 L164.7,248.0 M188.5,222.8 L186.3,227.9 L183.3,232.6 L181.3,237.8 M160.2,245.7 L164.7,248.0 M163.1,303.4 L162.8,308.6 L164.2,313.8 L164.6,318.9 L164.9,324.2 M164.9,324.2 L173.1,326.9 M173.1,326.9 L176.5,324.9 M200.4,328.0 L194.4,327.2 L188.4,327.0 L182.3,326.8 L176.5,324.9 M207.6,318.8 L203.4,322.9 L200.4,328.0 M150.0,286.9 L144.9,287.7 L140.5,290.5 L135.8,292.6 L130.8,293.9 M150.0,286.9 L151.7,292.8 L154.1,298.3 M154.1,298.3 L149.5,302.0 L147.4,307.8 L142.9,311.5 M142.9,311.5 L138.4,309.3 M136.6,308.4 L130.3,305.4 M130.8,293.9 L130.9,299.7 L130.3,305.4 M120.8,285.4 L126.2,289.2 L130.8,293.9 M151.6,281.6 L147.2,278.5 L143.0,275.2 L138.4,272.5 L134.2,269.0 M151.6,281.6 L150.0,286.9 M116.5,312.4 L120.1,312.9 M120.1,312.9 L125.4,309.4 L130.3,305.4 M152.0,339.2 L146.4,338.4 L141.0,336.7 M152.0,339.2 L156.3,334.4 L159.6,328.7 L164.4,324.3 M164.4,324.3 L159.3,323.1 L154.3,321.8 L149.5,319.7 L144.6,318.1 M144.6,318.1 L141.5,322.8 L137.8,327.0 M140.1,359.2 L147.3,359.6 M147.3,359.6 L150.4,353.1 L155.2,347.7 M155.2,347.7 L152.0,339.2 M176.5,343.4 L175.1,338.0 L173.5,332.6 L173.1,326.9 M176.5,343.4 L169.7,350.3 M169.7,350.3 L162.2,350.0 L155.2,347.7 M164.9,324.2 L164.4,324.3 M142.9,311.5 L144.6,318.1 M163.1,303.4 L158.8,300.5 L154.1,298.3 M120.1,312.9 L123.1,317.3 L126.0,321.9 L127.9,327.1 M112.2,339.1 L110.0,334.5 L107.5,330.0 L104.7,325.7 L102.5,321.0 M212.3,247.3 L214.6,253.6 L215.4,260.1 L216.5,266.6 M181.3,237.8 L186.0,240.3 L189.2,244.5 L193.4,247.6 L197.7,250.4 M197.2,283.9 L196.9,277.8 L198.4,271.8 M200.2,339.7 L195.3,344.7 L189.2,348.2 M200.2,339.7 L205.7,342.1 L209.7,346.8 L215.0,349.4 M189.2,348.2 L190.8,354.7 L192.3,361.1 L193.0,367.7 M193.0,367.7 L198.1,365.6 L203.6,364.9 L208.7,362.8 L214.0,361.2 M215.0,349.4 L213.9,355.2 L214.0,361.2 M200.4,328.0 L200.2,333.9 L200.2,339.7 M176.5,343.4 L183.2,344.9 L189.2,348.2 M227.6,339.7 L223.5,343.0 L219.2,346.1 L215.0,349.4 M191.9,369.5 L193.0,367.7 M191.9,369.5 L195.3,374.0 L198.7,378.6 L203.6,381.9 L206.7,386.7 M217.1,364.2 L214.0,361.2 M217.1,364.2 L216.8,370.3 L218.8,376.2 L218.7,382.3 M206.7,386.7 L212.6,384.1 L218.7,382.3 M236.1,364.4 L229.7,363.8 L223.4,365.3 L217.1,364.2 M239.0,351.6 L237.2,357.9 L236.1,364.4 M329.6,426.7 L335.2,426.1 L340.7,426.1 L346.3,426.7 M346.3,426.7 L349.5,435.1 M329.6,426.7 L328.0,433.6 M328.0,433.6 L333.9,439.5 M312.4,467.4 L307.6,465.2 L303.8,461.3 L298.9,459.2 M310.5,474.8 L305.5,477.1 L299.8,476.5 L294.9,478.7 M298.9,459.2 L293.2,461.0 L288.2,464.3 M294.9,478.7 L288.7,473.4 M288.2,464.3 L288.7,473.4 M279.4,456.8 L274.6,456.4 M279.4,456.8 L283.2,461.3 L288.2,464.3 M274.6,456.4 L271.8,460.8 L269.1,465.4 L266.8,470.2 M288.7,473.4 L284.1,475.6 L279.9,478.6 L275.1,480.3 M275.1,480.3 L271.6,474.7 L266.8,470.2 M184.7,152.0 L178.0,152.9 L171.3,151.9 M190.1,173.1 L190.1,165.7 L191.0,158.3 M190.1,173.1 L196.3,172.4 L202.4,171.5 L208.5,171.3 M191.0,158.3 L196.3,157.3 L201.7,157.3 L207.2,157.6 L212.5,156.1 M208.5,171.3 L213.6,164.5 M212.5,156.1 L213.6,164.5 M185.3,181.1 L190.1,173.1 M191.0,158.3 L190.9,158.2 M184.7,152.0 L185.0,152.1 M185.0,152.1 L190.9,158.2 M185.0,152.1 L187.8,145.4 L191.6,139.4 M214.8,222.9 L216.1,216.1 L216.7,209.2 M192.0,196.8 L197.3,196.9 L202.7,196.7 M202.7,196.7 L207.2,201.0 L211.3,205.8 L216.7,209.2 M208.5,171.3 L211.3,176.5 L216.0,180.4 L218.6,185.7 M202.7,196.7 L208.3,193.5 L213.1,189.0 L218.6,185.7 M226.4,169.4 L219.6,167.8 L213.6,164.5 M365.3,197.9 L365.6,194.2 M365.3,197.9 L368.5,202.2 L372.9,205.4 M382.4,198.9 L377.3,201.7 L372.9,205.4 M229.6,227.5 L233.7,223.9 M245.7,242.5 L249.8,239.4 M249.8,239.4 L248.2,233.6 L247.0,227.8 M233.7,223.9 L240.3,226.1 L247.0,227.8 M249.8,195.4 L251.2,200.8 M247.0,227.8 L250.2,223.2 L254.7,220.0 M226.4,169.4 L231.8,166.1 M231.8,166.1 L237.9,168.3 M242.1,177.4 L240.0,172.8 L237.9,168.3 M253.6,275.9 L253.9,269.5 M245.7,242.5 L246.7,248.4 L246.8,254.3 M273.3,271.5 L269.8,263.6 M253.9,269.5 L257.8,264.1 M269.8,263.6 L263.8,263.1 L257.8,264.1 M246.8,254.3 L256.5,255.9 M257.8,264.1 L256.5,255.9 M159.0,418.9 L168.0,422.7 M159.0,418.9 L160.4,413.0 L160.6,406.9 L161.3,400.8 M168.0,422.7 L171.7,418.6 L175.2,414.4 L178.3,409.8 M161.3,400.8 L168.4,401.3 L175.5,402.3 M175.5,402.3 L178.3,409.8 M155.1,420.3 L159.0,418.9 M169.7,425.9 L168.0,422.7 M158.1,397.5 L149.3,399.0 M158.1,397.5 L161.3,400.8 M247.7,596.6 L247.1,593.5 M262.2,587.2 L252.5,585.1 M260.8,597.3 L262.2,592.4 L262.2,587.2 M252.5,585.1 L250.3,589.6 L247.1,593.5 M229.0,592.5 L234.3,590.3 L239.8,589.0 M247.1,593.5 L239.8,589.0 M262.2,587.2 L264.4,585.7 M275.7,590.5 L269.8,588.8 L264.4,585.7 M241.0,493.6 L236.9,497.3 L233.9,501.9 M233.9,501.9 L236.6,506.4 L238.7,511.2 M250.4,495.8 L241.0,493.6 M250.4,495.8 L249.8,501.8 L248.9,507.8 M248.9,507.8 L243.9,509.7 L238.7,511.2 M213.6,485.6 L208.7,483.6 L203.7,482.3 M213.6,485.6 L215.2,491.2 L215.3,497.0 M199.2,495.1 L206.7,495.6 L213.9,497.7 M215.3,497.0 L213.9,497.7 M232.0,567.3 L232.2,564.4 M221.0,572.5 L226.3,569.5 L232.0,567.3 M217.6,558.1 L221.3,557.0 M232.2,564.4 L227.3,559.8 L221.3,557.0 M237.1,539.5 L237.5,541.1 M237.1,539.5 L231.9,534.5 L225.4,531.3 M237.5,541.1 L232.6,548.9 M225.4,531.3 L220.8,539.4 M220.8,539.4 L223.7,544.5 L227.5,549.0 M232.6,548.9 L227.5,549.0 M220.4,539.5 L220.8,539.4 M221.3,557.0 L223.8,552.6 L227.5,549.0 M232.2,564.4 L235.2,560.3 L239.2,557.1 M239.2,557.1 L236.1,552.9 L232.6,548.9 M659.0,179.2 L660.5,174.0 L661.3,168.7 M659.0,179.2 L664.9,182.3 L670.8,185.4 M673.7,172.5 L665.8,167.2 M665.8,167.2 L661.3,168.7 M679.2,170.5 L673.7,172.5 M669.2,156.5 L667.4,161.8 L665.8,167.2 M659.6,195.6 L654.1,193.0 M659.0,179.2 L656.9,180.4 M656.9,180.4 L655.1,186.6 L654.1,193.0 M650.0,208.9 L645.8,206.1 M645.8,206.1 L647.9,200.1 L648.6,193.8 M654.1,193.0 L648.6,193.8 M637.1,214.0 L640.2,207.7 M637.1,214.0 L631.3,213.4 L625.5,213.8 M640.2,207.7 L633.6,201.1 M625.5,213.8 L626.0,207.3 L627.7,201.0 M633.6,201.1 L627.7,201.0 M645.8,206.1 L640.2,207.7 M641.0,188.7 L648.6,193.8 M641.0,188.7 L636.6,194.5 L633.6,201.1 M634.0,227.3 L638.7,229.9 L643.4,232.3 M623.7,217.7 L620.4,222.1 L615.8,224.9 M625.5,213.8 L624.2,214.8 M623.7,217.7 L624.2,214.8 M615.8,224.9 L612.9,224.9 M606.9,234.4 L610.8,230.2 L612.9,224.9 M294.9,478.7 L294.4,484.2 M310.1,490.5 L302.8,494.9 M294.4,484.2 L298.7,489.5 L302.8,494.9 M303.5,508.1 L300.3,503.1 M302.8,494.9 L300.3,503.1 M271.0,328.5 L273.5,334.1 L276.4,339.4 M276.4,339.4 L283.0,338.0 L289.7,338.4 M289.7,338.4 L291.2,332.3 L294.6,327.0 M288.3,320.5 L294.6,327.0 M254.9,347.8 L260.2,351.0 L264.3,355.6 M264.3,355.6 L267.9,356.3 M267.9,356.3 L270.5,350.6 L274.1,345.3 L276.4,339.4 M263.1,327.0 L271.0,328.5 M294.2,305.2 L292.7,302.6 M309.6,309.9 L304.4,308.5 L299.5,306.4 L294.2,305.2 M309.6,309.9 L306.5,315.0 L305.2,321.0 L302.0,326.1 M165.6,251.9 L163.2,256.6 L160.8,261.4 L158.1,266.0 L156.0,270.9 L154.8,276.2 L152.5,281.0 M165.6,251.9 L170.4,255.7 L173.9,260.5 L177.8,265.1 M177.8,265.1 L177.8,271.6 L176.6,277.9 L175.5,284.2 M152.5,281.0 L158.2,282.5 L163.9,283.6 L169.9,282.4 L175.5,284.2 M151.6,281.6 L152.5,281.0 M164.7,248.0 L165.6,251.9 M194.6,267.4 L189.1,265.7 L183.5,265.4 L177.8,265.1 M180.8,291.1 L175.5,284.2 M299.7,355.5 L296.9,349.5 L292.8,344.3 L289.7,338.4 M299.7,355.5 L299.7,355.5 M267.9,356.3 L269.3,357.7 M299.7,355.5 L294.6,355.4 L289.5,355.4 L284.6,357.5 L279.5,357.3 L274.3,356.5 L269.3,357.7 M202.3,398.4 L208.0,399.0 L212.8,402.6 L218.6,403.1 M206.7,386.7 L204.8,392.7 L202.3,398.4 M218.7,382.3 L225.1,385.4 L230.9,389.4 M218.6,403.1 L223.0,399.1 L227.3,395.1 L231.3,390.6 M230.9,389.4 L231.3,390.6 M236.1,364.4 L238.6,368.7 L241.8,372.6 M230.9,389.4 L233.6,385.2 L237.1,381.5 L239.2,376.9 L241.8,372.6 M264.3,355.6 L259.4,359.5 L255.9,364.8 L251.0,368.8 L246.2,372.7 M241.8,372.6 L246.2,372.7 M160.7,381.4 L157.4,376.2 M160.7,381.4 L165.9,382.1 L171.1,382.9 L176.4,382.5 L181.5,383.9 M169.7,362.5 L165.0,364.7 L161.5,368.4 L157.7,371.7 M169.7,362.5 L174.8,363.9 L179.6,365.9 L184.0,369.1 L188.8,371.1 M157.7,371.7 L157.4,376.2 M188.8,371.1 L185.5,377.7 L181.5,383.9 M158.1,397.5 L158.7,392.1 L160.2,386.9 L160.7,381.4 M145.1,380.3 L151.6,379.2 L157.4,376.2 M183.1,391.7 L178.6,396.5 L175.5,402.3 M183.1,391.7 L181.5,383.9 M147.3,359.6 L150.3,364.0 L154.5,367.4 L157.7,371.7 M169.7,350.3 L168.8,356.4 L169.7,362.5 M191.9,369.5 L188.8,371.1 M200.5,399.7 L202.3,398.4 M183.1,391.7 L189.0,394.2 L194.9,396.6 L200.5,399.7 M328.0,433.6 L323.5,437.1 L318.6,439.9 M320.1,454.9 L316.8,447.9 M318.6,439.9 L316.8,447.9 M298.9,459.2 L300.5,453.4 L300.3,447.4 M316.8,447.9 L311.3,448.5 L305.8,446.9 L300.3,447.4 M266.7,98.3 L260.7,100.1 L254.4,100.0 M266.7,98.3 L267.9,104.5 L268.8,110.9 M268.8,110.9 L263.1,111.8 L257.4,111.7 L251.7,112.1 M254.4,100.0 L251.4,104.3 L250.4,109.3 M250.4,109.3 L251.7,112.1 M231.8,166.1 L229.7,157.2 M212.5,156.1 L213.0,155.4 M229.7,157.2 L223.6,155.3 L217.8,152.6 M213.0,155.4 L217.8,152.6 M251.7,112.1 L249.6,118.3 M269.7,112.5 L268.8,110.9 M269.7,112.5 L267.8,121.7 M267.8,121.7 L262.7,122.3 L257.5,121.9 L252.4,121.6 M285.0,112.0 L279.9,111.2 L274.8,112.7 L269.7,112.5 M293.9,119.5 L293.4,124.0 M293.4,124.0 L287.4,130.0 M272.6,134.1 L277.4,132.2 L282.5,131.5 L287.4,130.0 M272.6,134.1 L270.1,130.6 M267.8,121.7 L270.1,130.6 M270.1,130.6 L264.4,132.2 L258.5,132.8 L252.6,132.5 M259.4,171.0 L252.9,174.1 L246.9,178.2 M259.4,171.0 L261.4,175.6 L263.6,180.2 M246.9,178.2 L249.7,183.8 L253.9,188.4 M263.6,180.2 L261.1,186.9 M253.9,188.4 L261.1,186.9 M242.1,177.4 L246.9,178.2 M249.8,195.4 L253.9,188.4 M261.3,203.6 L256.5,201.4 L251.2,200.8 M266.5,193.4 L261.1,186.9 M275.5,180.3 L269.5,180.8 L263.6,180.2 M275.5,180.3 L273.7,173.9 L273.3,167.3 M259.4,171.0 L259.5,170.7 M259.5,170.7 L266.3,168.4 L273.3,167.3 M594.3,212.7 L587.3,210.5 M601.1,205.2 L597.6,208.9 L594.3,212.7 M365.3,197.9 L361.1,201.4 L356.9,204.8 M372.9,205.4 L372.0,210.0 M372.0,210.0 L365.9,210.4 L360.3,213.0 M356.9,204.8 L360.3,213.0 M276.0,180.7 L283.1,179.0 M276.0,180.7 L276.8,186.2 L275.9,191.7 M283.1,179.0 L288.6,184.4 M275.9,191.7 L281.1,191.2 L286.3,191.4 M286.3,191.4 L288.6,184.4 M266.5,193.4 L274.9,192.9 M275.5,180.3 L276.0,180.7 M274.9,192.9 L275.9,191.7 M433.9,365.8 L430.2,360.4 L427.9,354.3 M411.7,367.8 L415.9,376.6 M411.7,367.8 L415.3,362.5 L417.0,356.3 M417.0,356.3 L422.5,355.2 L427.9,354.3 M455.0,349.5 L449.4,346.4 M449.4,346.4 L442.9,346.7 L436.6,348.3 L430.3,350.2 M430.3,350.2 L427.9,354.3 M449.4,346.4 L447.4,341.2 L445.4,336.0 L444.1,330.5 L442.2,325.3 M442.2,325.3 L446.6,322.8 L451.3,321.0 L455.9,318.9 M466.0,328.1 L461.3,323.1 L455.9,318.9 M261.3,203.6 L262.5,205.5 M254.7,220.0 L256.2,219.9 M264.4,232.3 L260.5,236.9 L255.6,240.3 M255.6,240.3 L258.7,244.8 L261.7,249.3 M275.7,240.9 L275.7,239.9 M275.7,240.9 L271.4,245.0 L268.5,250.3 M268.5,250.3 L261.7,249.3 M264.4,224.6 L256.2,219.9 M249.8,239.4 L255.6,240.3 M280.3,234.6 L279.1,224.8 M279.1,224.8 L273.1,220.1 M273.1,220.1 L264.4,224.6 M280.3,234.6 L275.7,239.9 M256.5,255.9 L261.7,249.3 M251.2,574.6 L250.2,578.4 M251.2,574.6 L245.8,569.8 M250.2,578.4 L245.3,580.5 L240.0,581.3 M245.8,569.8 L241.0,572.1 L235.7,572.3 M240.0,581.3 L235.3,577.5 M235.3,577.5 L235.7,572.3 M252.5,585.1 L250.2,578.4 M239.8,589.0 L240.0,581.3 M225.4,583.6 L230.1,580.1 L235.3,577.5 M232.0,567.3 L235.7,572.3 M277.5,589.6 L279.6,583.4 M285.1,580.2 L279.6,583.4 M286.1,501.4 L293.3,501.6 L300.3,503.1 M300.7,513.0 L295.6,514.3 L290.8,516.3 L286.4,519.2 M286.1,501.4 L283.9,507.0 L281.7,512.6 M281.7,512.6 L286.4,519.2 M238.7,511.2 L238.4,512.4 M238.4,512.4 L233.6,514.9 L228.8,517.4 M223.7,499.5 L223.1,505.8 L220.8,511.7 M224.7,499.1 L223.7,499.5 M224.7,499.1 L233.9,501.9 M220.8,511.7 L228.8,517.4 M239.2,557.1 L241.2,557.2 M245.8,569.8 L245.1,560.6 M245.1,560.6 L241.2,557.2 M256.4,559.6 L255.6,553.0 L253.5,546.8 M256.4,559.6 L250.8,560.8 L245.1,560.6 M241.2,557.2 L245.7,551.5 L249.7,545.5 M253.5,546.8 L249.7,545.5 M237.5,541.1 L243.7,542.4 L249.5,545.1 M249.5,545.1 L249.7,545.5 M608.6,215.0 L616.7,210.7 M608.6,215.0 L606.9,209.7 L603.3,205.4 M616.7,210.7 L615.1,200.9 M624.2,214.8 L616.7,210.7 M612.9,224.9 L607.7,218.4 M607.7,218.4 L608.6,215.0 M597.4,220.9 L594.3,212.7 M601.1,205.2 L603.3,205.4 M597.4,220.9 L602.6,219.7 L607.7,218.4 M623.9,197.8 L627.7,201.0 M623.9,197.8 L615.1,200.9 M598.8,259.0 L598.1,249.1 M598.8,259.0 L592.9,260.7 L586.8,260.9 M586.8,260.9 L584.0,257.3 M584.0,257.3 L587.8,252.0 L592.5,247.6 M603.7,263.2 L598.8,259.0 M587.2,268.5 L586.8,260.9 M631.4,264.8 L623.6,266.1 M619.1,273.0 L623.6,266.1 M285.6,500.6 L286.0,492.2 M285.6,500.6 L280.2,498.4 L274.4,497.9 L268.7,496.9 M286.0,492.2 L280.9,486.7 L274.7,482.5 M268.7,496.9 L269.0,489.3 M269.0,489.3 L274.7,482.5 M286.1,501.4 L285.6,500.6 M294.4,484.2 L290.0,488.0 L286.0,492.2 M275.1,480.3 L274.7,482.5 M265.8,500.5 L261.1,498.7 L256.1,497.6 L251.8,495.0 M251.8,495.0 L253.4,489.3 L255.3,483.7 M265.8,500.5 L268.7,496.9 M255.3,483.7 L262.5,485.5 L269.0,489.3 M260.7,470.9 L257.7,476.4 L254.5,481.9 M255.3,483.7 L254.5,481.9 M266.8,470.2 L260.7,470.9 M299.7,355.5 L303.5,351.0 L308.6,348.3 M310.7,332.7 L309.1,337.8 L309.0,343.0 L308.6,348.3 M311.9,308.9 L319.1,312.9 M319.1,312.9 L321.3,318.0 L321.9,323.6 L324.2,328.6 M309.6,309.9 L311.9,308.9 M310.7,332.7 L317.8,331.7 L324.2,328.6 M346.3,426.7 L350.4,418.6 M350.4,418.6 L360.2,416.8 M363.3,419.2 L360.2,416.8 M329.6,426.7 L325.7,417.7 M325.7,417.7 L331.7,410.1 M350.4,418.6 L346.2,414.9 L343.2,410.2 M331.7,410.1 L337.5,409.2 L343.2,410.2 M363.5,394.9 L358.1,393.4 L352.4,392.6 M360.2,416.8 L360.1,411.2 L361.8,405.9 L361.8,400.3 L363.5,394.9 M343.2,410.2 L347.1,404.8 L349.8,398.7 L352.4,392.6 M293.6,378.3 L288.3,379.6 L282.9,380.5 M293.6,378.3 L295.7,372.3 L298.3,366.5 L300.9,360.8 M300.9,360.8 L299.7,355.5 M269.3,357.7 L271.9,363.8 L273.6,370.1 L274.3,376.7 M274.3,376.7 L282.9,380.5 M246.2,372.7 L251.2,377.0 L256.0,381.4 L260.8,386.0 M274.3,376.7 L270.3,380.6 L265.6,383.4 L260.8,386.0 M231.3,390.6 L235.3,395.0 L239.9,398.9 M239.9,398.9 L246.2,397.4 L252.4,395.5 L258.8,394.2 M260.8,386.0 L258.8,394.2 M318.6,439.9 L313.3,435.9 L308.6,431.0 M325.7,417.7 L320.6,416.7 L315.5,416.2 M315.5,416.2 L312.6,420.9 L311.5,426.4 L308.6,431.0 M282.9,380.5 L283.1,386.4 L281.5,392.1 L281.8,397.9 L281.3,403.7 M258.8,394.2 L261.7,399.0 L265.2,403.4 M265.2,403.4 L270.6,403.0 L275.9,404.7 L281.3,403.7 M308.2,392.7 L305.8,399.2 M308.2,392.7 L304.5,389.2 L300.8,385.6 L297.1,382.1 L293.6,378.3 M305.8,399.2 L300.2,401.6 L294.0,401.9 L288.3,404.2 L282.2,404.5 M282.2,404.5 L281.3,403.7 M199.9,403.1 L202.8,407.5 L203.9,412.9 L207.3,417.1 M199.9,403.1 L196.5,407.7 L192.6,411.6 L187.8,414.6 M207.3,417.1 L204.0,422.5 L200.0,427.2 M200.0,427.2 L194.7,425.0 L189.6,422.2 M189.6,422.2 L187.8,414.6 M200.5,399.7 L199.9,403.1 M220.3,414.2 L219.2,408.7 L218.6,403.1 M220.3,414.2 L218.0,417.0 M218.0,417.0 L212.6,416.9 L207.3,417.1 M178.3,409.8 L183.4,411.5 L187.8,414.6 M180.6,429.9 L185.8,426.9 L189.6,422.2 M218.0,417.0 L220.2,424.2 L221.0,431.6 M200.0,427.2 L202.4,434.1 M221.0,431.6 L214.7,431.6 L208.6,433.2 L202.4,434.1 M189.5,443.0 L195.0,439.7 L201.2,438.0 M196.8,461.4 L200.6,457.6 L204.9,454.3 L208.2,450.1 M208.2,450.1 L204.4,444.2 L201.2,438.0 M199.5,471.8 L205.7,471.1 L211.6,468.9 L217.7,468.0 M217.7,468.0 L215.4,462.6 L213.7,457.0 L212.9,451.2 M208.2,450.1 L212.9,451.2 M201.2,438.0 L202.4,434.1 M228.9,482.4 L238.2,483.6 M228.9,482.4 L223.8,477.4 M231.4,463.7 L236.7,464.5 L242.1,464.5 M231.4,463.7 L226.6,466.5 L222.8,470.5 M242.1,464.5 L242.5,472.0 L243.3,479.3 M238.2,483.6 L243.3,479.3 M223.8,477.4 L222.8,470.5 M241.0,493.6 L238.8,488.8 L238.2,483.6 M224.7,499.1 L226.0,493.5 L227.3,487.9 L228.9,482.4 M223.7,499.5 L215.3,497.0 M213.6,485.6 L218.6,481.4 L223.8,477.4 M260.7,470.9 L257.1,466.7 L252.9,463.3 L248.4,460.1 M254.5,481.9 L248.7,481.2 L243.3,479.3 M248.4,460.1 L242.1,464.5 M251.8,495.0 L250.4,495.8 M217.7,468.0 L222.8,470.5 M249.6,118.3 L242.3,119.0 M250.4,109.3 L244.2,107.3 M244.2,107.3 L240.0,110.5 M249.2,97.3 L248.6,90.8 L246.2,84.7 M249.2,97.3 L243.2,100.8 M243.2,100.8 L238.0,99.0 M238.0,99.0 L235.8,91.0 M246.2,84.7 L240.9,87.6 L235.8,91.0 M271.3,87.0 L269.1,92.7 L266.7,98.3 M248.6,80.3 L246.2,84.7 M254.4,100.0 L249.2,97.3 M244.2,107.3 L243.2,100.8 M190.9,158.2 L193.7,153.1 L197.2,148.6 L201.4,144.6 M201.4,144.6 L206.2,145.2 M293.4,145.6 L291.8,140.3 L289.6,135.1 L287.4,130.0 M290.2,147.9 L293.4,145.6 M272.6,134.1 L272.3,135.9 M272.3,135.9 L274.7,140.4 L277.9,144.4 M296.4,162.4 L294.5,167.4 L291.1,171.7 M296.4,162.4 L287.9,157.3 M286.2,158.0 L287.9,157.3 M286.2,158.0 L282.1,166.8 M282.1,166.8 L286.8,172.1 M286.8,172.1 L291.1,171.7 M277.2,154.5 L286.2,158.0 M290.2,147.9 L287.9,157.3 M277.2,154.5 L272.2,158.0 M273.5,167.1 L272.2,158.0 M273.5,167.1 L282.1,166.8 M283.1,179.0 L286.8,172.1 M273.5,167.1 L273.3,167.3 M305.0,169.4 L301.7,165.1 L297.0,162.3 M297.0,162.3 L296.4,162.4 M305.0,169.4 L303.4,174.9 M291.1,171.7 L296.4,176.9 M296.4,176.9 L303.4,174.9 M288.6,184.4 L294.7,183.0 M296.4,176.9 L294.7,183.0 M290.6,196.4 L297.0,193.8 M297.0,193.8 L298.6,187.5 M286.3,191.4 L290.6,196.4 M294.7,183.0 L298.6,187.5 M298.9,146.0 L303.7,141.1 L306.9,135.1 M298.9,146.0 L303.8,153.7 M316.6,149.8 L313.6,145.0 L311.5,139.7 L308.4,135.0 M308.4,135.0 L306.9,135.1 M293.4,145.6 L298.9,146.0 M293.4,124.0 L297.7,128.0 L302.0,131.9 L306.9,135.1 M297.0,162.3 L299.9,157.6 L303.8,153.7 M305.5,169.2 L305.0,169.4 M317.1,129.2 L312.8,132.2 L308.4,135.0 M237.9,168.3 L241.4,164.6 L245.2,161.1 L249.6,158.4 M259.5,170.7 L258.3,164.9 L255.3,159.8 M249.6,158.4 L255.3,159.8 M272.2,158.0 L267.6,155.3 L262.6,153.5 M255.3,159.8 L262.6,153.5 M272.3,135.9 L267.2,139.9 L263.4,145.2 M492.8,323.3 L489.4,317.0 L485.2,311.1 M455.9,318.9 L457.1,312.2 L458.7,305.5 M458.7,305.5 L465.4,300.3 M477.9,312.2 L473.1,308.9 L469.1,304.7 L465.4,300.3 M306.7,242.4 L312.2,238.8 L317.5,234.9 M317.5,234.9 L322.8,241.3 M307.5,249.0 L306.7,242.4 M307.5,249.0 L315.2,252.5 M315.2,252.5 L318.5,246.5 L322.8,241.3 M305.1,286.6 L308.0,286.7 M311.9,308.9 L313.7,303.6 L313.8,298.0 L314.9,292.5 M308.0,286.7 L314.9,292.5 M268.4,207.8 L269.9,213.7 L273.4,218.7 M268.4,207.8 L273.5,205.9 L277.5,202.2 M273.4,218.7 L277.6,214.4 L282.5,210.7 M282.5,210.7 L281.7,204.7 M277.5,202.2 L281.7,204.7 M273.1,220.1 L273.4,218.7 M262.5,205.5 L268.4,207.8 M274.9,192.9 L277.5,202.2 M290.6,196.4 L289.7,200.3 M289.7,200.3 L281.7,204.7 M225.4,529.1 L226.8,523.2 L228.8,517.4 M238.4,512.4 L241.0,518.0 M225.4,529.2 L225.4,529.1 M225.4,529.2 L232.2,527.9 L239.0,526.8 M239.0,526.8 L241.0,518.0 M225.4,531.3 L225.4,529.2 M237.1,539.5 L242.7,531.3 M239.0,526.8 L242.7,531.3 M249.5,545.1 L250.4,538.4 L250.4,531.6 M242.7,531.3 L250.4,531.6 M302.1,527.3 L293.5,528.6 M286.4,519.2 L286.4,519.3 M293.5,528.6 L290.6,523.4 L286.4,519.3 M214.5,514.5 L212.2,522.9 M214.5,514.5 L208.7,508.2 M208.7,508.2 L200.6,508.9 M208.7,524.5 L212.2,522.9 M208.7,524.5 L204.5,521.0 L199.5,518.5 L195.0,515.1 M195.0,515.1 L200.6,508.9 M220.8,511.7 L214.5,514.5 M225.4,529.1 L218.3,527.0 L212.2,522.9 M213.9,497.7 L211.9,503.3 L208.7,508.2 M198.7,495.4 L200.0,502.1 L200.6,508.9 M205.0,533.9 L206.6,529.1 L208.7,524.5 M193.4,515.5 L195.0,515.1 M259.4,545.0 L253.5,546.8 M268.5,552.0 L263.3,549.3 L259.4,545.0 M268.5,552.0 L268.4,556.0 M256.4,559.6 L257.2,560.2 M268.4,556.0 L262.5,557.4 L257.2,560.2 M251.2,574.6 L258.4,571.1 M257.2,560.2 L256.8,565.7 L258.4,571.1 M264.4,585.7 L264.8,579.8 L266.2,573.9 M258.4,571.1 L266.2,573.9 M265.8,500.5 L265.7,500.7 M248.9,507.8 L257.1,511.8 M265.7,500.7 L262.2,506.9 L257.1,511.8 M281.7,512.6 L274.8,513.3 M265.7,500.7 L268.5,505.1 L271.8,509.0 L274.8,513.3 M641.0,188.7 L640.2,187.1 M656.9,180.4 L649.7,178.4 M627.5,185.4 L633.5,187.1 L639.8,186.8 M640.2,187.1 L639.8,186.8 M653.6,164.9 L661.3,168.7 M653.6,164.9 L646.7,169.5 M649.7,178.4 L646.7,169.5 M627.3,175.2 L619.1,169.6 M597.3,221.2 L588.5,225.1 M597.3,221.2 L599.9,227.6 L601.8,234.3 M588.5,225.1 L587.6,231.0 L588.1,236.9 M597.4,220.9 L597.3,221.2 M581.9,215.0 L587.3,210.5 M581.9,215.0 L581.3,220.7 M581.3,220.7 L588.5,225.1 M603.2,235.0 L606.9,234.4 M603.2,235.0 L601.8,234.3 M621.4,252.7 L618.4,259.3 M623.6,266.1 L618.4,259.3 M626.3,251.3 L621.4,252.7 M308.6,348.3 L314.7,348.4 L320.7,349.3 L326.8,349.8 M395.2,366.8 L400.6,367.4 L406.1,368.4 L411.7,367.8 M395.2,366.8 L391.1,370.9 M401.3,387.2 L396.1,384.4 L392.3,380.0 M392.3,380.0 L391.1,370.9 M381.9,403.1 L379.0,398.5 L374.9,394.9 M392.3,380.0 L388.3,384.1 L384.1,388.1 L379.7,391.7 L374.9,394.9 M363.5,394.9 L369.0,393.0 M374.9,394.9 L369.0,393.0 M369.0,393.0 L368.3,387.8 L369.3,382.6 L369.7,377.3 L369.4,372.1 L369.7,366.8 M391.1,370.9 L385.7,370.6 L380.7,368.9 L375.7,367.3 L370.8,365.3 M370.8,365.3 L369.7,366.8 M354.7,329.7 L349.4,332.5 L344.8,336.6 L339.4,339.5 L334.2,342.5 M359.7,335.5 L354.7,329.7 M359.7,335.5 L360.8,340.7 L360.5,345.9 L360.1,351.2 M360.1,351.2 L353.6,354.2 L346.5,355.2 M322.8,371.2 L326.8,369.2 M322.8,371.2 L321.1,377.6 L317.2,383.2 L315.7,389.6 M315.7,389.6 L322.3,392.7 L328.9,395.6 M331.7,410.1 L330.4,402.8 L328.9,395.6 M352.4,392.6 L345.6,386.8 M369.7,366.8 L364.5,368.3 L359.2,369.6 L353.8,370.8 L348.8,373.0 L343.3,373.9 M370.2,360.6 L365.3,355.7 L360.1,351.2 M370.2,360.6 L370.8,365.3 M300.9,360.8 L306.6,363.1 L312.2,365.2 L317.0,369.4 L322.8,371.2 M308.2,392.7 L315.7,389.6 M315.5,416.2 L308.3,409.7 M305.8,399.2 L306.9,404.5 L308.3,409.7 M297.2,433.0 L294.4,427.8 L293.2,422.0 M297.2,433.0 L294.1,439.9 M292.4,440.4 L287.7,438.2 L282.3,437.7 L277.7,435.2 M292.4,440.4 L294.1,439.9 M293.2,422.0 L284.6,417.7 M284.6,417.7 L279.9,420.9 L275.9,424.8 M277.7,435.2 L276.8,430.0 L275.9,424.8 M308.3,409.7 L303.1,413.7 L298.3,418.0 L293.2,422.0 M308.6,431.0 L303.0,432.4 L297.2,433.0 M300.3,447.4 L294.1,439.9 M279.4,456.8 L282.6,452.6 L285.3,448.1 L289.8,445.0 L292.4,440.4 M274.6,456.4 L274.2,455.8 M271.6,441.3 L277.7,435.2 M274.2,455.8 L273.0,448.6 L271.6,441.3 M282.2,404.5 L283.4,411.1 L284.6,417.7 M267.7,423.1 L275.9,424.8 M262.1,411.8 L265.8,417.0 L267.7,423.1 M262.1,411.8 L265.2,403.4 M274.2,455.8 L268.3,454.9 L262.7,452.8 L256.8,452.1 L251.0,451.0 M271.6,441.3 L266.2,440.2 L261.3,437.9 M251.0,451.0 L253.9,446.3 L257.7,442.2 L261.3,437.9 M248.4,460.1 L250.8,451.1 M251.0,451.0 L250.8,451.1 M267.7,423.1 L264.4,427.9 L259.7,431.4 M259.7,431.4 L261.3,437.9 M240.0,110.5 L235.3,109.0 M238.0,99.0 L234.3,103.2 M235.3,109.0 L234.3,103.2 M219.2,147.2 L215.8,143.3 L214.3,138.4 M219.2,147.2 L226.8,142.6 M219.2,147.2 L217.8,152.6 M227.7,115.2 L226.9,115.0 M227.7,115.2 L235.3,109.0 M226.9,115.0 L226.6,109.8 L224.6,105.0 M234.3,103.2 L228.1,101.8 M228.1,101.8 L224.6,105.0 M235.8,91.0 L226.3,88.8 M228.1,101.8 L226.7,95.4 L226.3,88.8 M216.4,102.4 L216.0,96.9 L215.8,91.3 M224.6,105.0 L216.4,102.4 M226.3,88.8 L224.3,87.4 M229.7,157.2 L235.0,149.3 M226.8,142.6 L234.7,148.3 M235.0,149.3 L234.7,148.3 M249.6,158.4 L245.3,150.9 M235.0,149.3 L240.0,151.1 L245.3,150.9 M253.9,142.1 L247.8,145.2 M245.3,150.9 L247.8,145.2 M242.3,119.0 L241.2,120.0 M241.2,120.0 L231.9,120.4 M231.9,120.4 L230.8,126.6 M559.9,234.3 L556.2,229.9 M436.6,286.4 L438.2,292.3 L440.0,298.1 M440.0,298.1 L444.4,300.5 L449.0,302.6 L454.0,303.7 L458.7,305.5 M438.8,280.8 L439.2,280.4 M439.2,280.4 L445.9,279.1 L452.6,277.8 M436.6,286.4 L438.8,280.8 M468.0,294.0 L465.4,300.3 M468.0,294.0 L467.3,288.8 M467.3,288.8 L462.1,285.4 L458.1,280.6 L452.6,277.8 M536.3,230.4 L542.8,223.0 M536.3,230.4 L529.1,225.9 M529.1,225.9 L530.8,218.7 M542.6,220.3 L542.8,223.0 M542.6,220.3 L535.1,216.4 M535.1,216.4 L530.8,218.7 M551.5,230.7 L546.7,227.3 L542.8,223.0 M546.4,216.9 L542.6,220.3 M546.4,216.9 L546.2,211.0 M535.3,211.1 L535.1,216.4 M485.2,311.1 L488.6,306.6 M468.0,294.0 L473.5,294.9 L478.9,296.2 L484.5,296.1 M488.6,306.6 L486.3,301.4 L484.5,296.1 M356.9,204.8 L349.5,201.4 M349.5,201.4 L351.5,196.4 L353.1,191.3 M359.0,216.4 L351.7,219.5 M360.3,213.0 L359.0,216.4 M349.5,201.4 L347.1,202.1 M347.1,202.1 L345.5,207.5 L344.6,213.0 M344.6,213.0 L351.7,219.5 M303.4,174.9 L308.3,181.1 M320.1,175.0 L317.4,179.4 M317.4,179.4 L308.3,181.1 M298.6,187.5 L306.2,185.8 M308.3,181.1 L306.2,185.8 M323.5,225.7 L326.0,220.0 M323.5,225.7 L328.2,228.4 L332.3,232.1 M335.4,218.3 L326.0,220.0 M347.1,202.1 L343.5,200.6 M343.0,187.2 L340.2,190.8 M340.2,190.8 L342.7,195.4 L343.5,200.6 M336.9,215.6 L334.3,209.4 L331.2,203.4 M344.6,213.0 L336.9,215.6 M343.5,200.6 L337.6,203.0 L331.2,203.4 M447.7,258.4 L442.5,261.3 L437.4,264.4 M447.7,258.4 L445.6,252.7 L441.9,247.8 M441.9,247.8 L435.4,251.3 M435.4,251.3 L434.2,261.1 M437.4,264.4 L434.2,261.1 M323.5,225.7 L317.2,229.2 M332.3,232.1 L330.9,237.0 L329.5,241.9 M317.2,229.2 L317.5,234.9 M322.8,241.3 L329.2,242.1 M329.5,241.9 L329.2,242.1 M335.4,218.3 L336.9,215.6 M351.7,219.5 L349.7,224.5 M340.5,228.6 L341.6,229.0 M341.6,229.0 L349.7,224.5 M359.0,216.4 L363.0,220.5 L365.9,225.3 M372.0,210.0 L377.2,216.9 M365.9,225.3 L371.2,220.6 L377.2,216.9 M387.6,206.3 L382.8,211.4 L379.8,217.7 M387.6,206.3 L392.7,211.3 L398.1,216.0 M398.1,216.0 L393.0,217.6 L388.9,221.4 L383.7,222.7 M383.7,222.7 L379.8,217.7 M386.9,199.3 L387.6,206.3 M377.2,216.9 L379.8,217.7 M325.5,329.1 L329.6,326.2 L333.2,322.6 L337.1,319.4 L340.5,315.6 L344.8,312.9 M319.1,312.9 L324.7,309.7 L330.7,307.3 L336.9,305.6 M354.7,329.7 L354.4,320.6 M354.4,320.6 L349.1,314.2 M349.1,314.2 L344.8,312.9 M418.4,309.3 L416.5,303.6 L416.9,297.6 L415.7,291.7 M415.7,291.7 L407.7,286.1 M407.7,286.1 L398.2,286.6 M395.0,291.7 L398.2,286.6 M388.2,322.7 L385.5,329.3 L383.2,336.0 M388.2,322.7 L391.8,321.4 M391.8,321.4 L396.7,324.3 L401.4,327.4 L406.5,330.0 L411.6,332.4 M385.2,343.2 L383.2,336.0 M385.2,343.2 L391.0,345.6 L395.8,349.7 M395.8,349.7 L401.3,348.4 L406.6,346.5 M406.6,346.5 L408.6,339.3 L411.6,332.4 M359.7,335.5 L365.6,336.3 L371.5,334.8 L377.4,334.9 L383.2,336.0 M375.7,313.6 L380.3,316.0 L384.0,319.7 L388.2,322.7 M375.1,297.9 L374.6,303.1 L376.0,308.3 L375.7,313.6 M398.1,311.4 L394.6,316.1 L391.8,321.4 M370.2,360.6 L374.5,356.7 L378.0,352.2 L380.9,347.1 L385.2,343.2 M395.2,366.8 L395.7,361.1 L396.0,355.4 L395.8,349.7 M417.0,356.3 L412.0,351.2 L406.6,346.5 M430.2,312.0 L421.0,311.7 M430.2,312.0 L432.9,317.0 L437.3,320.6 L440.8,324.9 M421.0,311.7 L419.1,316.6 L416.8,321.3 L416.7,326.8 L414.0,331.5 M440.8,324.9 L435.8,328.4 L431.8,333.0 L426.7,336.3 M426.7,336.3 L420.7,333.0 L414.0,331.5 M436.6,286.4 L431.2,287.3 L425.9,288.2 L421.0,290.9 L415.7,291.7 M440.0,298.1 L437.0,302.9 L433.8,307.7 L430.2,312.0 M418.4,309.3 L421.0,311.7 M442.2,325.3 L440.8,324.9 M411.6,332.4 L414.0,331.5 M430.3,350.2 L428.4,343.3 L426.7,336.3 M290.8,248.8 L294.9,252.7 M290.8,248.8 L286.0,249.4 M294.9,252.7 L292.8,258.1 L290.4,263.3 M286.0,249.4 L280.8,256.7 M280.8,256.7 L284.7,263.1 M284.7,263.1 L290.4,263.3 M293.4,239.5 L290.8,248.8 M293.4,239.5 L302.0,238.0 M302.0,238.0 L306.7,242.4 M307.5,249.0 L300.9,253.5 M300.9,253.5 L294.9,252.7 M289.9,235.1 L280.3,234.6 M293.4,239.5 L289.9,235.1 M275.7,240.9 L280.4,245.6 L286.0,249.4 M300.9,253.5 L302.3,259.5 L303.8,265.6 M295.9,270.0 L290.4,263.3 M295.9,270.0 L303.8,265.6 M278.0,272.7 L281.9,268.3 L284.7,263.1 M294.8,273.9 L295.9,270.0 M254.9,529.7 L252.9,529.5 M254.9,529.7 L261.4,525.8 L266.6,520.5 M252.9,529.5 L250.8,522.4 M250.8,522.4 L254.4,517.5 L257.2,512.1 M257.2,512.1 L262.6,515.5 L266.6,520.5 M259.4,545.0 L263.2,536.9 M263.2,536.9 L259.2,533.2 L254.9,529.7 M250.4,531.6 L252.9,529.5 M241.0,518.0 L245.7,520.7 L250.8,522.4 M257.1,511.8 L257.2,512.1 M267.6,520.6 L266.6,520.5 M267.6,520.6 L270.5,516.3 L274.8,513.3 M293.5,528.6 L290.2,535.1 M301.3,540.3 L296.3,541.2 M290.2,535.1 L296.3,541.2 M299.7,555.9 L294.0,548.0 M294.0,548.0 L296.3,541.2 M283.7,557.2 L283.8,548.0 M293.4,560.9 L288.8,558.4 L283.7,557.2 M294.0,548.0 L288.9,547.0 L283.8,548.0 M279.3,527.5 L280.5,532.9 L283.6,537.5 M279.3,527.5 L271.2,526.9 M271.2,526.9 L268.5,535.7 M283.6,537.5 L283.6,537.5 M283.6,537.5 L277.6,538.8 L271.6,538.4 M271.6,538.4 L268.5,535.7 M286.4,519.3 L282.7,523.2 L279.3,527.5 M290.2,535.1 L283.6,537.5 M267.6,520.6 L271.2,526.9 M263.2,536.9 L268.5,535.7 M283.8,548.0 L283.7,547.8 M283.7,547.8 L283.9,542.7 L283.6,537.5 M272.1,548.0 L277.9,547.1 L283.7,547.8 M272.1,548.0 L271.6,538.4 M268.5,552.0 L272.1,548.0 M280.0,560.0 L274.7,558.1 L269.3,557.0 M280.0,560.0 L279.8,568.4 M269.3,557.0 L268.5,562.3 L268.0,567.6 L268.7,572.9 M279.8,568.4 L275.0,570.3 L270.8,573.1 M270.8,573.1 L268.7,572.9 M283.7,557.2 L280.0,560.0 M268.4,556.0 L269.3,557.0 M286.1,572.1 L279.8,568.4 M266.2,573.9 L268.7,572.9 M279.6,583.4 L274.7,578.7 L270.8,573.1 M639.7,168.7 L640.0,163.5 L640.4,158.4 M639.8,186.8 L639.9,181.0 L638.2,175.4 L637.9,169.7 M646.7,169.5 L639.7,168.7 M627.3,175.2 L632.3,173.0 L636.7,169.6 M653.6,164.9 L652.9,160.3 M581.3,220.7 L574.2,225.4 M584.0,257.3 L578.0,255.3 M556.7,218.3 L559.1,221.6 M559.1,221.6 L567.0,220.1 M556.2,229.9 L559.1,221.6 M546.4,216.9 L551.5,218.1 L556.7,218.3 M574.2,225.4 L567.0,220.1 M581.9,215.0 L576.6,211.3 M231.4,463.7 L229.6,458.2 L228.2,452.6 L227.3,446.9 M250.8,451.1 L246.0,447.8 L242.2,443.4 M242.2,443.4 L237.0,443.5 L232.4,446.1 L227.3,446.9 M221.0,431.6 L221.9,432.2 M212.9,451.2 L219.0,449.1 L224.4,445.5 M221.9,432.2 L222.6,439.0 L224.4,445.5 M224.4,445.5 L227.3,446.9 M237.7,138.6 L243.5,138.4 M237.7,138.6 L234.0,133.8 M234.0,133.8 L234.3,131.9 M234.3,131.9 L241.9,128.5 M243.5,138.4 L247.1,131.7 M247.1,131.7 L241.9,128.5 M234.7,148.3 L236.6,143.6 L237.7,138.6 M247.8,145.2 L243.5,138.4 M230.8,126.6 L234.3,131.9 M241.2,120.0 L241.9,128.5 M505.9,213.1 L504.5,218.3 M505.9,213.1 L511.5,210.6 M504.5,218.3 L511.0,224.0 M511.0,224.0 L517.4,220.9 M517.4,220.9 L519.8,212.5 M499.1,206.5 L505.9,213.1 M496.4,222.3 L504.5,218.3 M530.8,218.7 L525.5,215.2 L519.8,212.5 M523.8,228.3 L517.4,220.9 M427.2,247.4 L427.4,241.5 M427.2,247.4 L435.4,251.3 M441.9,247.8 L444.4,242.6 M427.4,241.5 L435.0,237.3 M444.4,242.6 L439.3,240.6 L435.0,237.3 M439.2,280.4 L438.2,275.1 L438.7,269.6 L437.4,264.4 M452.6,277.8 L454.6,273.2 L456.0,268.4 M447.7,258.4 L454.6,260.2 M454.6,260.2 L456.0,268.4 M494.3,306.4 L499.7,298.7 M494.3,306.4 L498.9,312.0 M499.7,298.7 L504.2,302.2 L508.6,305.8 M498.9,312.0 L504.1,311.1 L509.4,310.4 M494.0,323.5 L496.6,317.8 L498.9,312.0 M488.6,306.6 L494.3,306.4 M504.2,283.9 L497.9,283.7 L491.8,282.1 M505.7,288.6 L503.3,293.2 L499.5,296.7 M499.5,296.7 L494.0,295.3 L488.9,293.1 M488.9,293.1 L489.9,287.9 L490.9,282.6 M490.9,282.6 L491.8,282.1 M493.3,269.2 L491.7,275.6 L491.8,282.1 M495.4,267.7 L493.3,269.2 M499.7,298.7 L499.5,296.7 M484.5,296.1 L488.9,293.1 M475.9,278.2 L481.2,278.8 L485.9,281.3 L490.9,282.6 M467.3,288.8 L472.1,283.9 L475.9,278.2 M482.7,268.2 L478.8,271.8 L476.1,276.2 M482.7,268.2 L481.2,260.3 M476.1,276.2 L472.0,272.0 L469.1,267.0 M469.1,267.0 L469.3,261.7 L471.6,257.0 M481.2,260.3 L472.9,256.3 M472.9,256.3 L471.6,257.0 M493.3,269.2 L488.1,267.9 L482.7,268.2 M475.9,278.2 L476.1,276.2 M492.2,257.2 L487.4,255.9 M487.4,255.9 L481.2,260.3 M456.0,268.4 L462.4,266.7 L469.1,267.0 M454.6,260.2 L459.2,253.9 M459.2,253.9 L465.5,255.0 L471.6,257.0 M306.2,185.8 L307.9,190.9 L311.1,195.3 M297.0,193.8 L304.7,199.4 M311.1,195.3 L304.7,199.4 M320.4,189.2 L316.2,195.8 M320.4,189.2 L325.4,189.5 L330.5,189.0 M318.4,199.5 L316.2,195.8 M318.4,199.5 L324.2,200.7 L329.3,203.5 M330.5,189.0 L331.3,190.0 M331.3,190.0 L331.2,196.6 L330.7,203.2 M329.3,203.5 L330.7,203.2 M311.1,195.3 L316.2,195.8 M317.4,179.4 L319.1,184.2 L320.4,189.2 M332.0,181.2 L330.5,189.0 M314.1,210.7 L308.8,207.9 L303.1,206.2 M304.7,199.4 L303.1,206.2 M314.1,210.7 L316.9,205.3 L318.4,199.5 M322.9,214.4 L325.2,208.4 L329.3,203.5 M314.8,212.3 L322.9,214.4 M314.8,212.3 L314.1,210.7 M340.2,190.8 L331.3,190.0 M331.2,203.4 L330.7,203.2 M326.0,220.0 L322.9,214.4 M289.7,200.3 L293.5,204.5 L297.2,208.8 M282.5,210.7 L289.4,214.8 M297.2,208.8 L289.4,214.8 M303.1,206.2 L299.4,209.0 M297.2,208.8 L299.4,209.0 M279.1,224.8 L284.5,223.5 L289.6,221.5 M289.4,214.8 L289.6,221.5 M289.9,235.1 L292.0,230.1 L293.6,224.9 M293.6,224.9 L289.6,221.5 M313.6,227.1 L308.6,229.2 L303.3,230.9 M313.6,227.1 L310.7,219.7 M310.7,219.7 L302.6,218.3 M302.6,218.3 L297.5,224.7 M303.3,230.9 L297.5,224.7 M302.0,238.0 L303.3,230.9 M317.2,229.2 L313.6,227.1 M314.8,212.3 L310.7,219.7 M299.4,209.0 L302.6,218.3 M293.6,224.9 L297.5,224.7 M398.1,216.0 L400.1,216.3 M407.1,203.8 L403.3,209.9 L400.1,216.3 M421.3,231.8 L427.2,228.3 L433.9,226.6 M421.3,231.8 L418.2,226.9 L417.0,221.1 M417.6,220.1 L417.0,221.1 M417.6,220.1 L425.0,218.3 L432.6,218.7 M432.6,218.7 L434.9,224.6 M434.9,224.6 L433.9,226.6 M435.0,237.3 L435.1,231.9 L433.9,226.6 M427.4,241.5 L420.2,234.9 M420.2,234.9 L421.3,231.8 M414.5,237.5 L420.2,234.9 M407.7,223.1 L417.0,221.1 M409.2,235.0 L409.2,228.9 L407.7,223.1 M409.2,235.0 L414.5,237.5 M407.7,223.1 L402.4,220.5 M416.8,207.7 L417.5,213.9 L417.6,220.1 M400.1,216.3 L402.4,220.5 M433.5,213.3 L432.6,218.7 M349.7,224.5 L354.3,228.6 L358.0,233.5 M365.9,225.3 L365.9,226.6 M358.0,233.5 L362.4,230.6 L365.9,226.6 M358.0,233.5 L357.1,239.0 M341.6,229.0 L343.3,234.1 L345.0,239.3 M357.1,239.0 L351.0,238.9 L345.0,239.3 M329.5,241.9 L335.5,243.5 L341.7,244.2 M341.7,244.2 L345.0,239.3 M438.8,280.8 L434.1,277.7 L428.7,275.6 L423.8,272.8 M407.7,286.1 L412.1,278.3 M423.8,272.8 L418.0,275.5 L412.1,278.3 M317.4,292.1 L321.8,287.8 L326.6,284.0 L330.2,279.0 M317.4,292.1 L322.2,293.7 L326.6,296.1 L331.0,298.5 L335.6,300.5 M330.2,279.0 L337.1,279.5 L343.5,282.1 M314.9,292.5 L317.4,292.1 M234.3,427.6 L238.5,430.7 L242.4,434.2 M234.3,427.6 L235.3,420.9 L236.3,414.2 M242.4,434.2 L247.1,431.6 L251.0,427.8 M251.0,427.8 L250.7,422.2 L249.5,416.8 M249.5,416.8 L244.3,414.5 L239.5,411.3 M236.3,414.2 L239.5,411.3 M242.2,443.4 L242.4,434.2 M221.9,432.2 L227.7,429.0 L234.3,427.6 M220.3,414.2 L225.6,413.9 L231.0,413.8 L236.3,414.2 M259.7,431.4 L251.0,427.8 M262.1,411.8 L255.6,413.9 L249.5,416.8 M239.9,398.9 L239.8,405.1 L239.5,411.3 M494.5,245.6 L494.1,244.9 M523.8,228.3 L523.5,229.0 M464.0,219.0 L460.0,222.5 L455.4,225.0 M447.9,220.9 L455.4,225.0 M447.9,220.9 L448.1,217.5 M441.5,225.4 L434.9,224.6 M441.5,225.4 L447.9,220.9 M444.8,242.4 L448.7,236.1 M444.8,242.4 L449.1,245.6 L454.6,246.8 L458.7,250.5 M448.7,236.1 L454.4,233.8 M454.4,233.8 L460.9,236.7 M460.9,236.7 L462.9,242.8 M458.7,250.5 L462.9,242.8 M444.4,242.6 L444.8,242.4 M441.5,225.4 L444.7,231.0 L448.7,236.1 M459.2,253.9 L458.7,250.5 M455.4,225.0 L454.4,233.8 M469.5,229.4 L465.3,233.2 L460.9,236.7 M469.5,229.4 L466.6,224.4 L464.7,219.0 M482.6,217.8 L480.9,225.9 M469.5,229.4 L470.2,229.6 M480.9,225.9 L475.7,228.2 L470.2,229.6 M480.9,225.9 L486.0,233.2 M343.5,282.1 L345.1,281.4 M349.1,314.2 L351.1,309.6 L354.7,305.8 L356.5,301.0 L358.5,296.4 M365.9,226.6 L369.4,230.5 L373.7,233.4 M383.7,222.7 L383.8,226.2 M373.7,233.4 L378.8,229.9 L383.8,226.2 M343.2,251.0 L349.2,252.5 L354.4,255.7 M343.2,251.0 L337.4,256.6 M337.4,256.6 L337.0,261.7 M337.0,261.7 L341.9,265.3 L345.2,270.4 L349.3,274.7 M356.1,254.3 L356.6,247.6 L358.6,241.0 M356.1,254.3 L354.4,255.7 M358.6,241.0 L357.1,239.0 M341.7,244.2 L343.2,251.0 M329.3,252.6 L337.4,256.6 M329.2,242.1 L329.2,247.4 L329.3,252.6 M356.1,254.3 L362.4,255.1 L368.6,255.9 M434.2,261.1 L429.0,260.3 L423.8,261.2 M423.8,272.8 L422.3,262.9 M423.8,261.2 L422.3,262.9 M427.2,247.4 L422.3,251.1 M423.8,261.2 L422.5,256.2 L422.3,251.1 M412.1,278.3 L410.6,273.3 L411.0,268.1 L410.4,263.0 M422.3,262.9 L416.4,262.0 L410.4,263.0 M414.5,237.5 L414.5,243.2 L413.3,248.7 M422.3,251.1 L413.3,248.7 M484.7,235.9 L475.7,239.1 M484.7,235.9 L487.9,244.9 M485.6,247.9 L487.9,244.9 M485.6,247.9 L480.5,248.9 L475.4,247.6 M475.7,239.1 L473.7,243.9 M475.4,247.6 L473.7,243.9 M470.2,229.6 L472.5,234.6 L475.7,239.1 M486.0,233.2 L484.7,235.9 M494.1,244.9 L487.9,244.9 M487.4,255.9 L485.6,247.9 M472.9,256.3 L475.4,247.6 M462.9,242.8 L468.2,244.3 L473.7,243.9 M318.3,258.0 L319.9,258.5 M318.3,258.0 L313.5,262.1 L309.6,267.1 M319.9,258.5 L322.6,263.1 L326.7,266.6 M309.6,267.1 L312.4,274.6 M312.4,274.6 L319.4,274.0 L326.3,273.2 M326.3,273.2 L326.7,266.6 M315.2,252.5 L318.3,258.0 M329.3,252.6 L324.2,254.9 L319.9,258.5 M303.8,265.6 L309.6,267.1 M337.0,261.7 L331.7,263.8 L326.7,266.6 M308.0,286.7 L310.4,280.8 L312.4,274.6 M330.2,279.0 L326.3,273.2 M366.1,241.8 L370.3,238.6 L373.7,234.7 M366.1,241.8 L369.1,246.5 L372.5,251.0 M373.7,234.7 L378.5,240.0 L382.7,245.8 M372.5,251.0 L381.4,248.7 M381.4,248.7 L382.7,245.8 M358.6,241.0 L366.1,241.8 M373.7,233.4 L373.7,234.7 M368.6,255.9 L372.5,251.0 M396.2,231.1 L400.2,238.1 M396.2,231.1 L387.5,230.1 M387.5,230.1 L386.0,236.9 L385.8,243.8 M385.8,243.8 L392.0,242.9 L398.1,244.2 M400.2,238.1 L398.1,244.2 M402.4,220.5 L398.8,225.6 L396.2,231.1 M409.2,235.0 L400.2,238.1 M383.8,226.2 L387.5,230.1 M386.3,276.5 L387.4,271.0 L388.0,265.4 L389.7,260.1 M385.8,258.0 L389.7,260.1 M381.4,248.7 L384.4,252.9 L385.8,258.0 M398.2,286.6 L396.8,284.3 M400.8,249.1 L396.5,252.0 L393.0,255.8 L390.0,260.1 M400.8,249.1 L407.5,252.6 M407.5,252.6 L408.3,261.2 M408.3,261.2 L399.9,265.6 M390.0,260.1 L394.5,263.6 L399.9,265.6 M389.7,260.1 L390.0,260.1 M398.1,244.2 L400.8,249.1 M413.3,248.7 L407.5,252.6 M410.4,263.0 L408.3,261.2 M396.8,284.3 L398.1,278.1 L398.2,271.7 L399.9,265.6" fill="none" stroke="#4A170A" stroke-width="1.6" stroke-opacity="0.85" stroke-linecap="round"/>
<path d="M248.0,25.0 L240.0,32.0 L230.0,37.0 L217.0,40.0 L207.0,45.0 L195.0,47.0 L182.0,46.0" fill="none" stroke="#8a8a8a" stroke-width="1.6"/>
<path d="M230.0,37.0 L227.0,50.0 L230.0,60.0 L235.0,68.0 L232.0,75.0 L225.0,80.0 L215.0,86.0" fill="none" stroke="#8a8a8a" stroke-width="1.6"/>
<path d="M241.0,33.0 L246.0,43.0 L242.0,55.0 L247.0,67.0 L252.0,75.0 L260.0,78.0 L270.0,82.0" fill="none" stroke="#8a8a8a" stroke-width="1.6"/>
<path d="M160.0,50.0 L168.0,56.0 L170.0,66.0 L168.0,76.0" fill="none" stroke="#8a8a8a" stroke-width="1.6"/>
</g>
<path d="M139.0,11.0 L145.0,5.0 L157.0,1.0 L175.0,0.0 L190.0,0.0 L207.0,2.0 L217.0,7.0 L230.0,15.0 L240.0,21.0 L247.0,25.0 L255.0,23.0 L262.0,22.0 L274.0,18.0 L288.0,14.0 L294.0,16.0 L302.0,18.0 L310.0,21.0 L314.0,25.0 L312.0,34.0 L310.0,42.0 L304.0,46.0 L298.0,48.0 L294.0,52.0 L286.0,56.0 L282.0,60.0 L284.0,64.0 L282.0,68.0 L286.0,72.0 L294.0,76.0 L298.0,82.0 L294.0,86.0 L288.0,90.0 L280.0,91.0 L278.0,92.0 L280.0,100.0 L283.0,108.0 L287.0,116.0 L295.0,120.0 L305.0,123.0 L315.0,128.0 L322.0,132.0 L329.0,139.0 L324.0,144.0 L319.0,148.0 L311.0,154.0 L307.0,160.0 L303.0,167.0 L310.0,173.0 L320.0,175.0 L330.0,180.0 L340.0,186.0 L352.0,191.0 L365.0,194.0 L373.0,197.0 L383.0,199.0 L395.0,200.0 L405.0,203.0 L415.0,207.0 L425.0,211.0 L436.0,214.0 L450.0,218.0 L464.0,219.0 L477.0,218.6 L485.0,217.4 L489.7,218.6 L488.0,214.0 L486.3,205.0 L486.3,197.0 L487.4,190.0 L495.6,184.6 L503.0,184.6 L506.0,190.0 L506.9,193.4 L505.7,200.3 L507.0,209.0 L511.0,210.6 L528.0,211.7 L542.5,210.6 L557.0,212.0 L570.0,212.0 L580.0,211.0 L579.0,207.8 L577.8,202.0 L575.5,197.8 L569.0,196.7 L565.5,194.4 L566.7,190.0 L573.0,191.0 L578.0,190.0 L582.0,190.5 L586.7,187.8 L592.0,184.4 L597.8,181.0 L603.0,177.8 L609.0,174.4 L615.5,172.0 L620.0,169.0 L626.7,165.0 L631.0,160.0 L639.0,157.7 L647.5,162.0 L654.0,160.0 L662.0,156.7 L668.0,155.6 L673.5,160.0 L676.7,165.0 L680.0,169.0 L676.7,175.4 L683.0,178.5 L693.0,179.6 L698.5,184.8 L695.4,190.0 L689.0,194.0 L691.0,202.5 L689.0,205.6 L685.0,200.4 L676.7,200.4 L666.0,202.5 L655.0,206.0 L648.0,210.0 L646.0,221.0 L644.0,231.0 L640.0,240.0 L636.0,248.0 L634.0,254.0 L631.7,262.5 L630.6,271.0 L625.0,275.0 L619.0,273.0 L615.0,269.0 L611.0,266.7 L606.7,268.8 L608.8,275.0 L606.7,287.5 L602.5,296.0 L602.5,308.0 L598.0,316.7 L591.0,314.6 L587.0,304.0 L584.8,291.7 L583.8,281.0 L581.7,271.0 L578.5,277.0 L576.5,287.5 L569.0,293.8 L563.0,291.7 L561.0,285.4 L557.7,279.0 L557.7,273.0 L565.0,268.8 L573.3,268.8 L578.0,262.0 L578.0,250.0 L576.0,245.0 L563.0,247.0 L546.7,246.0 L534.0,247.0 L527.0,243.0 L527.0,232.5 L524.0,229.0 L515.0,229.0 L510.0,232.0 L508.0,240.0 L508.0,246.0 L503.4,247.0 L497.7,246.0 L494.3,245.0 L496.0,250.0 L494.0,256.0 L488.0,260.0 L492.0,266.0 L500.0,270.0 L502.9,280.0 L505.7,288.6 L507.0,294.3 L508.6,305.7 L510.0,314.3 L511.0,322.9 L505.0,324.3 L500.0,324.3 L490.0,322.9 L487.0,320.0 L482.9,321.4 L477.0,322.9 L472.9,324.3 L467.0,327.0 L461.4,332.9 L461.4,338.6 L464.3,342.9 L460.0,345.7 L454.3,350.0 L448.6,355.7 L442.9,360.0 L437.0,364.3 L431.4,367.0 L425.7,371.4 L420.0,375.7 L414.0,377.0 L407.5,382.5 L397.5,390.0 L387.5,397.5 L380.0,405.0 L370.0,412.5 L362.5,420.0 L357.5,427.5 L350.0,435.0 L340.0,437.5 L332.5,440.0 L327.5,447.5 L320.0,455.0 L315.0,462.5 L311.0,470.0 L310.0,480.0 L310.0,490.0 L312.5,500.0 L310.0,510.0 L307.5,520.0 L302.5,527.5 L300.0,535.0 L302.5,545.0 L300.0,552.5 L302.5,560.0 L301.0,567.5 L292.5,570.0 L285.0,572.5 L285.0,580.0 L290.0,587.5 L295.0,592.5 L287.5,588.5 L283.3,587.0 L280.0,588.3 L273.3,591.7 L267.0,595.0 L265.0,600.0 L261.7,606.7 L255.0,611.7 L249.0,614.2 L243.0,612.5 L237.5,605.0 L230.0,595.0 L225.0,582.5 L220.0,570.0 L217.5,557.5 L212.5,545.0 L205.0,535.0 L197.5,525.0 L191.0,510.0 L187.5,500.0 L184.0,490.0 L180.0,480.0 L175.0,470.0 L170.0,460.0 L164.0,447.5 L159.0,435.0 L155.0,420.0 L151.0,405.0 L147.5,392.5 L145.0,380.0 L141.0,370.0 L140.0,360.0 L141.0,352.5 L142.5,342.5 L140.0,332.5 L136.0,322.5 L137.5,314.0 L139.0,306.0 L135.0,310.0 L134.0,317.5 L130.0,325.0 L122.5,332.5 L112.5,339.0 L105.0,342.5 L97.5,341.0 L89.0,335.0 L80.0,329.0 L71.0,321.0 L65.0,316.0 L57.5,311.0 L59.0,306.0 L67.5,305.0 L77.5,304.0 L90.0,300.0 L87.5,296.0 L80.0,297.5 L72.5,299.0 L65.0,295.0 L55.0,289.0 L47.5,281.0 L41.0,277.0 L42.0,273.0 L50.0,267.5 L60.0,265.0 L80.0,266.0 L92.5,265.0 L102.5,264.0 L107.5,260.0 L107.5,252.5 L104.0,245.0 L99.0,240.0 L91.0,234.0 L86.0,227.5 L84.0,220.0 L74.0,214.0 L71.0,207.5 L75.0,199.0 L82.5,190.0 L90.0,186.0 L100.0,189.0 L110.0,189.7 L115.1,188.4 L122.9,185.8 L126.7,182.0 L131.9,174.3 L135.7,170.4 L140.8,167.8 L146.0,165.3 L151.1,158.8 L155.0,149.8 L160.1,143.4 L167.8,139.6 L169.1,133.1 L174.3,124.1 L179.4,117.7 L182.0,110.0 L184.0,100.0 L187.0,92.0 L177.0,85.0 L165.0,80.0 L161.0,70.0 L157.0,57.0 L160.0,46.0 L169.0,40.0 L167.0,30.0 L160.0,25.0 L150.0,20.0 L140.0,17.0 Z" fill="none" stroke="#4A170A" stroke-width="1.8"/>
<path d="M139.0,11.0 L145.0,5.0 L157.0,1.0 L175.0,0.0 L190.0,0.0 L207.0,2.0 L217.0,7.0 L230.0,15.0 L240.0,21.0 L247.0,25.0 L255.0,23.0 L262.0,22.0 L274.0,18.0 L288.0,14.0 L294.0,16.0 L302.0,18.0 L310.0,21.0 L314.0,25.0 L312.0,34.0 L310.0,42.0 L304.0,46.0 L298.0,48.0 L294.0,52.0 L286.0,56.0 L282.0,60.0 L284.0,64.0 L282.0,68.0 L286.0,72.0 L294.0,76.0 L298.0,82.0 L294.0,86.0 L288.0,90.0 L280.0,91.0 L278.0,92.0" fill="none" stroke="#7a7a7a" stroke-width="2"/>
<path d="M179.4,117.7 L182.0,110.0 L184.0,100.0 L187.0,92.0 L177.0,85.0 L165.0,80.0 L161.0,70.0 L157.0,57.0 L160.0,46.0 L169.0,40.0 L167.0,30.0 L160.0,25.0 L150.0,20.0 L140.0,17.0 L139.0,11.0" fill="none" stroke="#7a7a7a" stroke-width="2"/>
<path d="M488.0,214.0 L486.3,205.0 L486.3,197.0 L487.4,190.0 L495.6,184.6 L503.0,184.6 L506.0,190.0 L506.9,193.4 L505.7,200.3 L507.0,209.0 L511.0,210.6 L528.0,211.7 L542.5,210.6 L557.0,212.0 L570.0,212.0 L580.0,211.0 L579.0,207.8 L577.8,202.0 L575.5,197.8 L569.0,196.7 L565.5,194.4 L566.7,190.0 L573.0,191.0 L578.0,190.0 L582.0,190.5 L586.7,187.8 L592.0,184.4 L597.8,181.0 L603.0,177.8 L609.0,174.4 L615.5,172.0 L620.0,169.0 L626.7,165.0 L631.0,160.0 L639.0,157.7 L647.5,162.0 L654.0,160.0 L662.0,156.7 L668.0,155.6 L673.5,160.0 L676.7,165.0 L680.0,169.0 L676.7,175.4 L683.0,178.5 L693.0,179.6 L698.5,184.8 L695.4,190.0 L689.0,194.0 L691.0,202.5 L689.0,205.6 L685.0,200.4 L676.7,200.4 L666.0,202.5 L655.0,206.0 L648.0,210.0 L646.0,221.0 L644.0,231.0 L640.0,240.0 L636.0,248.0 L634.0,254.0 L631.7,262.5 L630.6,271.0 L625.0,275.0 L619.0,273.0 L615.0,269.0 L611.0,266.7 L606.7,268.8 L608.8,275.0 L606.7,287.5 L602.5,296.0 L602.5,308.0 L598.0,316.7 L591.0,314.6 L587.0,304.0 L584.8,291.7 L583.8,281.0 L581.7,271.0 L578.5,277.0 L576.5,287.5 L569.0,293.8 L563.0,291.7 L561.0,285.4 L557.7,279.0 L557.7,273.0 L565.0,268.8 L573.3,268.8 L578.0,262.0 L578.0,250.0 L576.0,245.0 L563.0,247.0 L546.7,246.0 L534.0,247.0 L527.0,243.0 L527.0,232.5 L524.0,229.0 L515.0,229.0 L510.0,232.0 L508.0,240.0 L508.0,246.0 L503.4,247.0 L497.7,246.0 L494.3,245.0" fill="none" stroke="#6e6e6e" stroke-width="1.8"/>
<circle cx="123.6" cy="522.9" r="1.6" fill="#555"/>
<circle cx="120.7" cy="532.9" r="1.6" fill="#555"/>
<circle cx="129.3" cy="540.7" r="1.6" fill="#555"/>
<circle cx="126.9" cy="548.6" r="1.6" fill="#555"/>
<circle cx="131.4" cy="554.3" r="1.6" fill="#555"/>
<circle cx="141.4" cy="537.9" r="1.6" fill="#555"/>
<circle cx="148.3" cy="541.9" r="1.6" fill="#555"/>
<circle cx="142.9" cy="548.6" r="1.6" fill="#555"/>
<circle cx="140.0" cy="561.7" r="1.6" fill="#555"/>
<circle cx="132.1" cy="572.1" r="1.6" fill="#555"/>
<circle cx="171.4" cy="546.0" r="1.6" fill="#555"/>
<circle cx="163.1" cy="556.4" r="1.6" fill="#555"/>
<circle cx="162.6" cy="571.4" r="1.6" fill="#555"/>
<circle cx="147.5" cy="610.5" r="1.6" fill="#555"/>
<path d="M598.7,494.5 L597.8,501.0 L596.7,507.5 L595.3,514.0 L594.2,520.0 L593.2,527.0 L591.8,534.0 L590.3,540.0 L589.3,545.0" fill="none" stroke="#5c5c5c" stroke-width="5" stroke-linecap="round" stroke-linejoin="round"/>
<path d="M598.7,494.5 L597.8,501.0 L596.7,507.5 L595.3,514.0 L594.2,520.0 L593.2,527.0 L591.8,534.0 L590.3,540.0 L589.3,545.0" fill="none" stroke="#b0b0b0" stroke-width="1.3" stroke-dasharray="2.5 3" stroke-linecap="round"/>
<path d="M599.5,524 L601,534" fill="none" stroke="#5c5c5c" stroke-width="3.4" stroke-linecap="round"/>
<ellipse cx="587" cy="557.7" rx="3" ry="4.8" fill="#d8d8d8" stroke="#555" stroke-width="1.8"/>
<ellipse cx="615.5" cy="635.5" rx="3.2" ry="6.5" fill="#e0e0e0" stroke="#555" stroke-width="1.8" transform="rotate(-18 615.5 635.5)"/>
<circle cx="581.0" cy="539.5" r="1.5" fill="#555"/>
<circle cx="617.4" cy="523.7" r="1.1" fill="#555"/>
<circle cx="627.0" cy="499.4" r="1.1" fill="#555"/>
<circle cx="581.0" cy="552.9" r="1.0" fill="#555"/>
<circle cx="593.0" cy="590.5" r="1.8" fill="#555"/>
<circle cx="601.6" cy="608.7" r="1.6" fill="#555"/>
<circle cx="607.6" cy="616.0" r="2.4" fill="#555"/>
<circle cx="612.5" cy="606.3" r="1.5" fill="#555"/>
<circle cx="604.0" cy="612.0" r="1.2" fill="#555"/>
</svg>
<div style="position:absolute;left:2.0px;top:675.5px;width:25.0px;height:24.5px;background:#88B53C"></div>
<div class="t" style="position:absolute;left:51.0px;top:665.0px;font-family:'Liberation Sans','Noto Sans Devanagari',sans-serif;font-size:26px;line-height:40px;color:#222;white-space:nowrap;word-spacing:-2px;font-weight:500;transform-origin:0 0;transform:scaleX(0.899)">चक्रवात</div>
<div style="position:absolute;left:139.0px;top:677.0px;width:25.0px;height:23.0px;background:#E45F1E"></div>
<div class="t" style="position:absolute;left:185.0px;top:666.0px;font-family:'Liberation Sans','Noto Sans Devanagari',sans-serif;font-size:26px;line-height:40px;color:#222;white-space:nowrap;word-spacing:-2px;font-weight:500;transform-origin:0 0;transform:scaleX(0.913)">सूखा</div>
<div style="position:absolute;left:252.0px;top:679.0px;width:23.0px;height:21.0px;background:#1D9ACC"></div>
<div class="t" style="position:absolute;left:297.0px;top:667.0px;font-family:'Liberation Sans','Noto Sans Devanagari',sans-serif;font-size:26px;line-height:40px;color:#222;white-space:nowrap;word-spacing:-2px;font-weight:500;transform-origin:0 0;transform:scaleX(0.970)">बाढ़</div>
<div style="position:absolute;left:348.0px;top:679.0px;width:24.0px;height:21.0px;background:#5DB8A8"></div>
<div class="t" style="position:absolute;left:388.0px;top:667.0px;font-family:'Liberation Sans','Noto Sans Devanagari',sans-serif;font-size:26px;line-height:40px;color:#222;white-space:nowrap;word-spacing:-2px;font-weight:500;transform-origin:0 0;transform:scaleX(0.841)">चक्रवात और सूखा</div>
<div style="position:absolute;left:542.5px;top:682.0px;width:21.5px;height:18.0px;background:#E8DC10"></div>
<div class="t" style="position:absolute;left:581.0px;top:669.0px;font-family:'Liberation Sans','Noto Sans Devanagari',sans-serif;font-size:26px;line-height:40px;color:#222;white-space:nowrap;word-spacing:-2px;font-weight:500;transform-origin:0 0;transform:scaleX(0.833)">बाढ़ और चक्रवात</div>
</body></html>
